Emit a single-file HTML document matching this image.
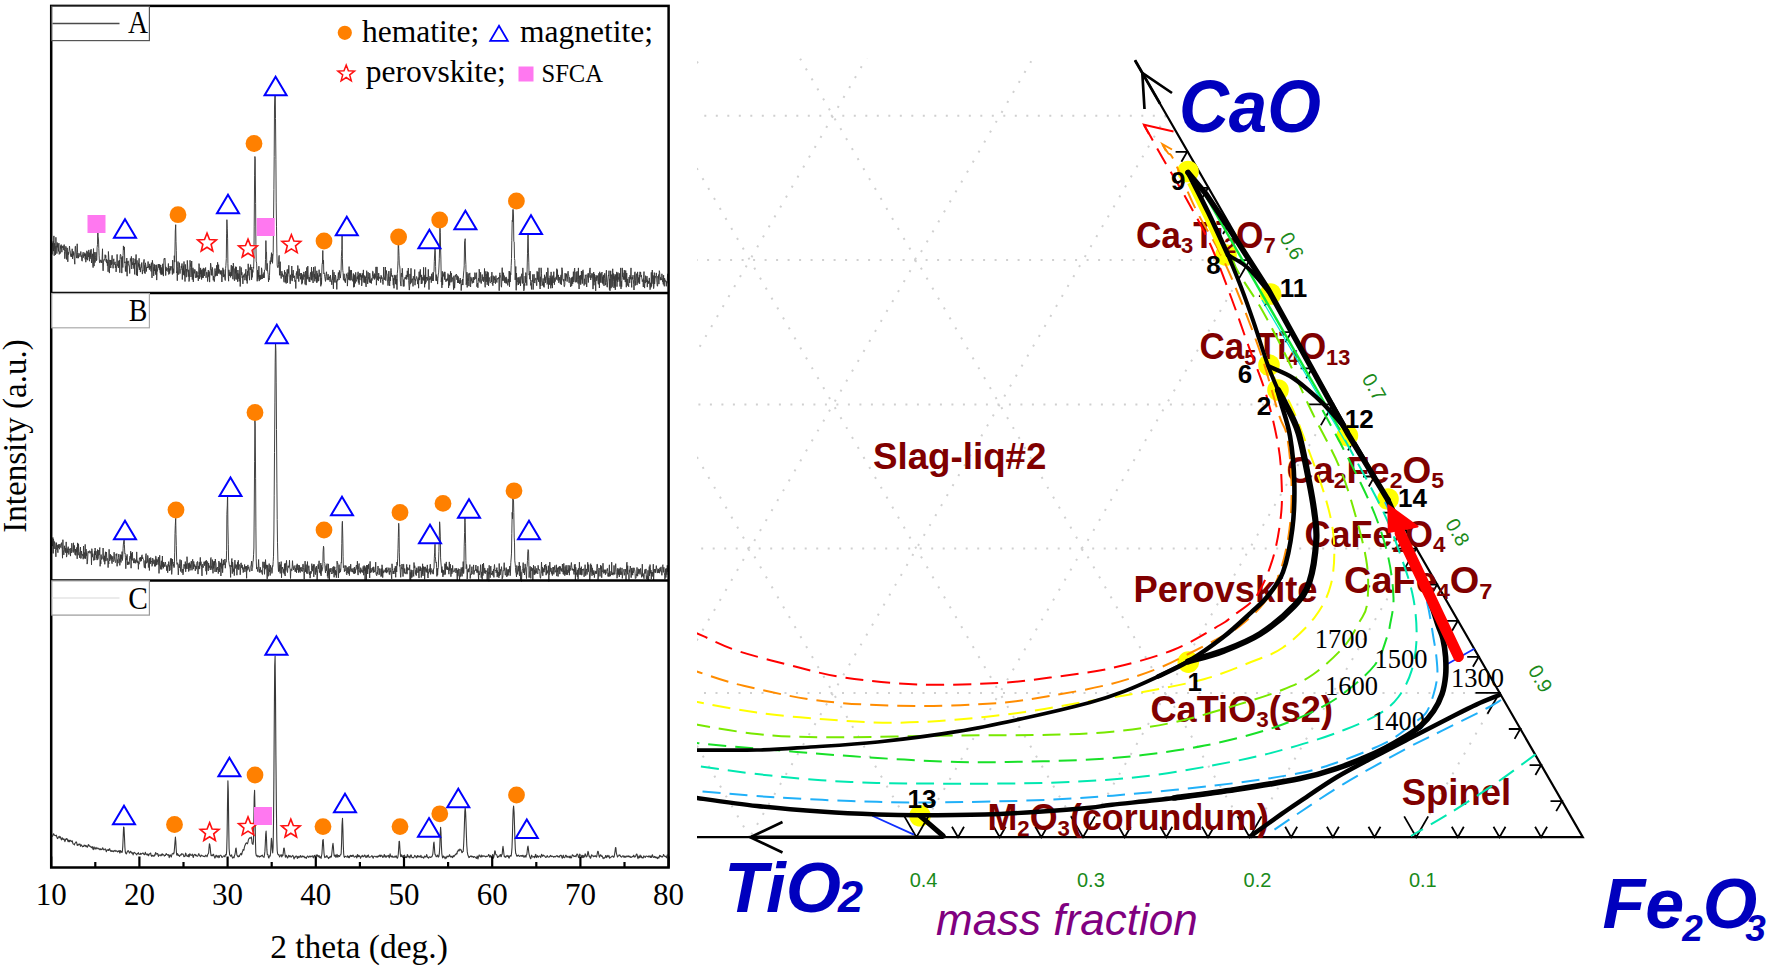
<!DOCTYPE html>
<html><head><meta charset="utf-8"><title>XRD patterns and CaO-TiO2-Fe2O3 phase diagram</title>
<style>html,body{margin:0;padding:0;background:#fff}svg{display:block}</style></head>
<body><svg width="1770" height="970" viewBox="0 0 1770 970">
<rect width="1770" height="970" fill="#fff"/>
<g id="L-left">
<g fill="none" stroke="#383838" stroke-width="0.95" stroke-linejoin="round">
<path d="M52.2 254.5 L52.5 243.4 L52.9 243.9 L53.2 241.3 L53.5 251.1 L53.9 235.9 L54.2 255.7 L54.5 243.3 L54.9 248.8 L55.2 246.1 L55.5 254.8 L55.9 237.3 L56.2 246.1 L56.5 245.9 L56.9 253.6 L57.2 242.5 L57.5 247.3 L57.9 243.8 L58.2 248.6 L58.5 251.4 L58.9 243.1 L59.2 254.4 L59.5 253.3 L59.9 251.4 L60.2 253.5 L60.5 245.7 L60.9 248.6 L61.2 244.6 L61.5 248.1 L61.9 252.2 L62.2 246.1 L62.5 247.7 L62.9 246.4 L63.2 245.7 L63.5 246.7 L63.8 250.1 L64.2 244.6 L64.5 251.5 L64.8 258.7 L65.2 254.2 L65.5 249.7 L65.8 246.3 L66.2 247.1 L66.5 259.4 L66.8 251.3 L67.2 247.9 L67.5 252.2 L67.8 261.8 L68.2 252.0 L68.5 254.6 L68.8 253.1 L69.2 249.9 L69.5 246.1 L69.8 250.1 L70.2 250.9 L70.5 255.0 L70.8 256.4 L71.2 256.9 L71.5 253.8 L71.8 256.9 L72.2 248.8 L72.5 258.9 L72.8 255.3 L73.2 251.3 L73.5 255.3 L73.8 252.6 L74.2 258.7 L74.5 260.8 L74.8 264.2 L75.2 246.4 L75.5 246.2 L75.8 251.0 L76.2 254.4 L76.5 258.1 L76.8 255.4 L77.2 243.8 L77.5 252.4 L77.8 258.2 L78.2 255.3 L78.5 258.1 L78.8 253.2 L79.2 253.4 L79.5 255.4 L79.8 256.6 L80.2 255.7 L80.5 255.4 L80.8 251.5 L81.2 256.8 L81.5 255.6 L81.8 260.7 L82.2 261.2 L82.5 256.2 L82.8 253.5 L83.2 252.2 L83.5 257.6 L83.8 256.0 L84.2 254.0 L84.5 256.0 L84.8 252.7 L85.2 259.4 L85.5 253.8 L85.8 262.2 L86.1 258.2 L86.5 259.2 L86.8 250.8 L87.1 257.2 L87.5 260.2 L87.8 251.8 L88.1 255.3 L88.5 256.9 L88.8 249.9 L89.1 258.4 L89.5 261.2 L89.8 252.7 L90.1 258.9 L90.5 250.6 L90.8 257.1 L91.1 249.2 L91.5 263.0 L91.8 259.5 L92.1 257.4 L92.5 253.8 L92.8 264.1 L93.1 267.6 L93.5 248.6 L93.8 264.1 L94.1 266.1 L94.5 259.8 L94.8 252.1 L95.1 262.5 L95.5 257.4 L95.8 255.3 L96.1 252.2 L96.5 260.7 L96.8 260.0 L97.1 247.7 L97.5 244.3 L97.8 227.5 L98.1 236.2 L98.5 240.0 L98.8 248.5 L99.1 255.2 L99.5 262.7 L99.8 262.8 L100.1 261.9 L100.5 260.0 L100.8 259.8 L101.1 262.6 L101.5 260.7 L101.8 263.0 L102.1 258.1 L102.5 248.8 L102.8 265.0 L103.1 270.8 L103.5 262.2 L103.8 259.5 L104.1 259.4 L104.5 259.6 L104.8 260.3 L105.1 254.7 L105.5 257.8 L105.8 255.4 L106.1 261.7 L106.5 259.1 L106.8 263.1 L107.1 259.8 L107.4 265.7 L107.8 261.9 L108.1 271.8 L108.4 251.5 L108.8 257.8 L109.1 265.6 L109.4 273.1 L109.8 259.9 L110.1 261.5 L110.4 260.2 L110.8 268.0 L111.1 260.0 L111.4 264.9 L111.8 260.0 L112.1 255.3 L112.4 263.2 L112.8 264.3 L113.1 268.3 L113.4 261.3 L113.8 258.8 L114.1 264.8 L114.4 263.2 L114.8 263.5 L115.1 261.8 L115.4 268.0 L115.8 264.1 L116.1 271.9 L116.4 267.9 L116.8 265.7 L117.1 254.4 L117.4 265.6 L117.8 264.7 L118.1 266.7 L118.4 268.0 L118.8 260.8 L119.1 267.0 L119.4 260.1 L119.8 272.7 L120.1 256.4 L120.4 254.3 L120.8 254.9 L121.1 258.7 L121.4 257.6 L121.8 273.1 L122.1 261.7 L122.4 256.4 L122.8 267.5 L123.1 255.5 L123.4 245.9 L123.8 250.0 L124.1 247.3 L124.4 246.9 L124.8 263.1 L125.1 261.7 L125.4 271.3 L125.8 266.3 L126.1 271.8 L126.4 264.6 L126.8 258.0 L127.1 276.2 L127.4 261.5 L127.8 263.3 L128.1 260.8 L128.4 263.3 L128.8 265.6 L129.1 265.5 L129.4 267.8 L129.7 273.5 L130.1 264.0 L130.4 258.5 L130.7 258.8 L131.1 261.4 L131.4 256.4 L131.7 269.0 L132.1 262.4 L132.4 263.4 L132.7 265.0 L133.1 258.1 L133.4 260.8 L133.7 268.5 L134.1 268.3 L134.4 263.0 L134.7 274.4 L135.1 258.8 L135.4 263.7 L135.7 264.3 L136.1 254.5 L136.4 275.2 L136.7 267.4 L137.1 260.4 L137.4 275.9 L137.7 268.7 L138.1 267.9 L138.4 262.8 L138.7 266.4 L139.1 258.3 L139.4 269.9 L139.7 264.1 L140.1 266.7 L140.4 272.1 L140.7 267.6 L141.1 267.5 L141.4 267.6 L141.7 262.6 L142.1 270.5 L142.4 274.1 L142.7 270.2 L143.1 270.9 L143.4 262.1 L143.7 262.2 L144.1 259.4 L144.4 272.8 L144.7 265.4 L145.1 273.7 L145.4 262.8 L145.7 264.6 L146.1 267.3 L146.4 271.5 L146.7 267.2 L147.1 268.0 L147.4 267.1 L147.7 267.9 L148.1 261.5 L148.4 267.5 L148.7 266.2 L149.1 266.9 L149.4 269.7 L149.7 263.9 L150.1 266.9 L150.4 265.9 L150.7 269.5 L151.1 271.4 L151.4 262.7 L151.7 270.5 L152.0 277.9 L152.4 260.3 L152.7 263.5 L153.0 263.3 L153.4 266.3 L153.7 275.9 L154.0 267.9 L154.4 264.4 L154.7 271.0 L155.0 264.9 L155.4 273.6 L155.7 269.5 L156.0 275.0 L156.4 264.8 L156.7 280.1 L157.0 272.3 L157.4 271.5 L157.7 268.0 L158.0 264.7 L158.4 264.0 L158.7 267.7 L159.0 264.4 L159.4 269.8 L159.7 264.3 L160.0 271.6 L160.4 273.3 L160.7 265.0 L161.0 274.6 L161.4 267.5 L161.7 274.5 L162.0 270.9 L162.4 274.4 L162.7 263.8 L163.0 268.3 L163.4 276.1 L163.7 265.8 L164.0 258.8 L164.4 259.3 L164.7 258.0 L165.0 258.5 L165.4 267.0 L165.7 275.5 L166.0 266.9 L166.4 270.8 L166.7 268.7 L167.0 269.3 L167.4 268.4 L167.7 268.4 L168.0 271.7 L168.4 263.5 L168.7 274.5 L169.0 274.1 L169.4 268.5 L169.7 273.5 L170.0 266.0 L170.4 266.9 L170.7 270.4 L171.0 268.7 L171.4 267.4 L171.7 266.4 L172.0 267.0 L172.4 274.5 L172.7 260.1 L173.0 271.6 L173.3 268.7 L173.7 273.4 L174.0 271.8 L174.3 255.7 L174.7 262.1 L175.0 247.0 L175.3 231.0 L175.7 224.7 L176.0 241.5 L176.3 250.7 L176.7 273.0 L177.0 271.4 L177.3 280.7 L177.7 266.3 L178.0 261.5 L178.3 273.9 L178.7 274.6 L179.0 270.6 L179.3 262.7 L179.7 268.2 L180.0 273.6 L180.3 269.6 L180.7 270.0 L181.0 269.7 L181.3 265.9 L181.7 268.0 L182.0 263.5 L182.3 279.5 L182.7 268.4 L183.0 273.1 L183.3 265.7 L183.7 274.8 L184.0 261.5 L184.3 275.5 L184.7 270.7 L185.0 281.5 L185.3 264.4 L185.7 271.4 L186.0 272.9 L186.3 277.2 L186.7 269.0 L187.0 271.5 L187.3 260.4 L187.7 267.0 L188.0 273.4 L188.3 276.7 L188.7 269.8 L189.0 281.5 L189.3 280.1 L189.7 271.0 L190.0 260.3 L190.3 262.5 L190.7 267.5 L191.0 277.0 L191.3 273.0 L191.7 261.0 L192.0 270.4 L192.3 279.6 L192.7 269.7 L193.0 267.8 L193.3 281.9 L193.7 271.9 L194.0 269.3 L194.3 273.4 L194.7 271.8 L195.0 269.6 L195.3 277.8 L195.6 277.4 L196.0 276.0 L196.3 271.3 L196.6 277.6 L197.0 271.6 L197.3 274.2 L197.6 277.1 L198.0 276.0 L198.3 280.9 L198.6 274.3 L199.0 263.6 L199.3 266.3 L199.6 278.8 L200.0 270.5 L200.3 274.1 L200.6 267.9 L201.0 277.2 L201.3 270.3 L201.6 279.5 L202.0 269.6 L202.3 277.9 L202.6 275.7 L203.0 268.7 L203.3 277.8 L203.6 267.9 L204.0 268.3 L204.3 276.0 L204.6 269.3 L205.0 269.5 L205.3 270.8 L205.6 267.5 L206.0 277.8 L206.3 275.6 L206.6 272.2 L207.0 272.1 L207.3 274.9 L207.6 281.5 L208.0 277.0 L208.3 270.1 L208.6 276.6 L209.0 272.1 L209.3 271.8 L209.6 282.1 L210.0 270.7 L210.3 270.4 L210.6 263.1 L211.0 265.8 L211.3 275.1 L211.6 269.4 L212.0 275.5 L212.3 267.4 L212.6 269.1 L213.0 276.4 L213.3 280.3 L213.6 276.0 L214.0 279.0 L214.3 281.6 L214.6 278.3 L215.0 268.5 L215.3 272.6 L215.6 276.3 L216.0 271.1 L216.3 275.5 L216.6 265.3 L217.0 269.1 L217.3 275.9 L217.6 262.3 L217.9 267.8 L218.3 273.2 L218.6 264.7 L218.9 273.6 L219.3 269.4 L219.6 271.9 L219.9 272.1 L220.3 274.4 L220.6 270.6 L220.9 273.9 L221.3 270.5 L221.6 276.3 L221.9 282.0 L222.3 274.5 L222.6 274.4 L222.9 267.8 L223.3 277.1 L223.6 269.8 L223.9 269.6 L224.3 276.4 L224.6 274.6 L224.9 279.2 L225.3 280.5 L225.6 268.7 L225.9 265.4 L226.3 258.5 L226.6 233.9 L226.9 219.7 L227.3 228.8 L227.6 238.8 L227.9 263.3 L228.3 276.8 L228.6 281.2 L228.9 269.8 L229.3 272.7 L229.6 275.9 L229.9 272.5 L230.3 272.0 L230.6 277.4 L230.9 272.3 L231.3 265.1 L231.6 275.9 L231.9 272.0 L232.3 270.4 L232.6 266.3 L232.9 279.2 L233.3 263.1 L233.6 265.7 L233.9 272.8 L234.3 280.3 L234.6 280.8 L234.9 268.5 L235.3 273.4 L235.6 266.7 L235.9 279.3 L236.3 266.9 L236.6 273.6 L236.9 279.5 L237.3 273.2 L237.6 281.7 L237.9 270.0 L238.3 276.2 L238.6 278.7 L238.9 273.7 L239.2 281.4 L239.6 277.2 L239.9 266.3 L240.2 286.5 L240.6 277.7 L240.9 275.1 L241.2 267.5 L241.6 275.0 L241.9 272.3 L242.2 277.8 L242.6 276.5 L242.9 283.9 L243.2 275.3 L243.6 277.2 L243.9 276.5 L244.2 273.9 L244.6 273.8 L244.9 280.2 L245.2 278.6 L245.6 271.6 L245.9 269.2 L246.2 274.4 L246.6 280.6 L246.9 274.7 L247.2 283.5 L247.6 270.9 L247.9 275.5 L248.2 263.8 L248.6 271.9 L248.9 273.1 L249.2 276.5 L249.6 280.2 L249.9 267.5 L250.2 270.0 L250.6 264.6 L250.9 269.3 L251.2 267.0 L251.6 279.8 L251.9 269.1 L252.2 277.4 L252.6 270.3 L252.9 272.4 L253.2 267.0 L253.6 268.3 L253.9 259.8 L254.2 226.9 L254.6 175.2 L254.9 156.5 L255.2 158.8 L255.6 203.5 L255.9 244.5 L256.2 261.1 L256.6 263.1 L256.9 270.3 L257.2 281.3 L257.6 270.0 L257.9 279.3 L258.2 272.2 L258.6 277.2 L258.9 266.2 L259.2 281.1 L259.6 275.1 L259.9 279.8 L260.2 276.3 L260.6 279.3 L260.9 274.9 L261.2 279.1 L261.5 267.8 L261.9 270.0 L262.2 279.0 L262.5 275.2 L262.9 274.3 L263.2 274.6 L263.5 278.0 L263.9 272.5 L264.2 277.9 L264.5 270.0 L264.9 269.7 L265.2 269.7 L265.5 259.5 L265.9 240.6 L266.2 251.6 L266.5 251.7 L266.9 270.7 L267.2 263.4 L267.5 269.4 L267.9 272.8 L268.2 274.4 L268.5 281.9 L268.9 278.2 L269.2 279.8 L269.5 275.3 L269.9 264.4 L270.2 260.7 L270.5 264.2 L270.9 257.3 L271.2 256.5 L271.5 252.7 L271.9 261.9 L272.2 254.1 L272.5 263.3 L272.9 256.3 L273.2 252.3 L273.5 223.2 L273.9 189.4 L274.2 156.6 L274.5 107.0 L274.9 92.1 L275.2 83.3 L275.5 118.5 L275.9 159.2 L276.2 202.1 L276.5 226.2 L276.9 253.8 L277.2 265.0 L277.5 267.2 L277.9 267.8 L278.2 267.2 L278.5 264.6 L278.9 256.3 L279.2 255.4 L279.5 275.1 L279.9 275.3 L280.2 261.7 L280.5 273.6 L280.9 276.5 L281.2 278.5 L281.5 276.2 L281.9 271.2 L282.2 275.1 L282.5 273.6 L282.9 276.8 L283.2 274.8 L283.5 275.5 L283.8 281.2 L284.2 282.3 L284.5 270.3 L284.8 273.9 L285.2 272.2 L285.5 282.3 L285.8 275.9 L286.2 283.5 L286.5 273.8 L286.8 276.4 L287.2 269.5 L287.5 282.8 L287.8 274.5 L288.2 268.9 L288.5 273.3 L288.8 265.3 L289.2 276.1 L289.5 276.9 L289.8 277.8 L290.2 283.8 L290.5 274.8 L290.8 280.4 L291.2 277.9 L291.5 275.4 L291.8 266.0 L292.2 281.1 L292.5 273.9 L292.8 276.5 L293.2 270.1 L293.5 277.8 L293.8 277.0 L294.2 276.6 L294.5 275.8 L294.8 281.7 L295.2 281.3 L295.5 280.1 L295.8 288.5 L296.2 273.5 L296.5 274.6 L296.8 271.4 L297.2 278.7 L297.5 273.1 L297.8 265.5 L298.2 270.5 L298.5 276.9 L298.8 281.6 L299.2 268.8 L299.5 273.5 L299.8 275.9 L300.2 273.0 L300.5 279.3 L300.8 276.6 L301.2 278.2 L301.5 273.0 L301.8 284.3 L302.2 276.6 L302.5 283.1 L302.8 274.5 L303.2 279.6 L303.5 273.3 L303.8 271.9 L304.2 273.2 L304.5 276.5 L304.8 275.6 L305.1 284.4 L305.5 271.0 L305.8 271.3 L306.1 285.2 L306.5 279.8 L306.8 267.4 L307.1 279.3 L307.5 278.0 L307.8 266.1 L308.1 274.9 L308.5 276.7 L308.8 280.5 L309.1 281.6 L309.5 277.3 L309.8 282.0 L310.1 276.1 L310.5 272.6 L310.8 272.2 L311.1 279.6 L311.5 267.1 L311.8 280.3 L312.1 271.4 L312.5 275.1 L312.8 279.4 L313.1 283.0 L313.5 267.2 L313.8 272.9 L314.1 277.2 L314.5 274.0 L314.8 281.3 L315.1 266.5 L315.5 278.8 L315.8 279.1 L316.1 277.2 L316.5 282.5 L316.8 270.8 L317.1 282.5 L317.5 273.5 L317.8 280.6 L318.1 275.4 L318.5 281.1 L318.8 280.9 L319.1 269.7 L319.5 276.3 L319.8 276.6 L320.1 275.9 L320.5 273.3 L320.8 286.3 L321.1 278.0 L321.5 284.4 L321.8 272.0 L322.1 264.6 L322.5 262.1 L322.8 250.5 L323.1 264.1 L323.5 260.2 L323.8 273.7 L324.1 272.8 L324.5 274.7 L324.8 276.9 L325.1 278.9 L325.5 281.4 L325.8 276.6 L326.1 273.8 L326.5 271.8 L326.8 276.8 L327.1 280.1 L327.4 279.5 L327.8 277.1 L328.1 274.2 L328.4 278.0 L328.8 280.1 L329.1 277.0 L329.4 277.8 L329.8 276.5 L330.1 281.8 L330.4 275.1 L330.8 278.2 L331.1 279.2 L331.4 280.9 L331.8 284.8 L332.1 280.7 L332.4 280.3 L332.8 269.9 L333.1 280.3 L333.4 288.8 L333.8 273.2 L334.1 272.2 L334.4 276.3 L334.8 282.4 L335.1 280.0 L335.4 275.0 L335.8 277.2 L336.1 282.5 L336.4 280.7 L336.8 289.4 L337.1 282.4 L337.4 279.1 L337.8 280.5 L338.1 275.6 L338.4 272.5 L338.8 278.3 L339.1 279.9 L339.4 270.4 L339.8 274.8 L340.1 275.5 L340.4 278.1 L340.8 273.2 L341.1 270.2 L341.4 256.7 L341.8 249.5 L342.1 232.9 L342.4 258.7 L342.8 270.5 L343.1 272.6 L343.4 279.5 L343.8 280.3 L344.1 273.8 L344.4 278.3 L344.8 281.4 L345.1 279.1 L345.4 282.8 L345.8 278.0 L346.1 277.9 L346.4 273.7 L346.8 275.7 L347.1 275.2 L347.4 286.1 L347.8 278.7 L348.1 272.6 L348.4 279.5 L348.8 276.6 L349.1 266.6 L349.4 280.0 L349.7 269.8 L350.1 280.5 L350.4 272.8 L350.7 270.3 L351.1 280.1 L351.4 270.1 L351.7 275.4 L352.1 278.6 L352.4 280.7 L352.7 281.3 L353.1 277.4 L353.4 273.5 L353.7 287.3 L354.1 274.6 L354.4 286.7 L354.7 275.4 L355.1 283.5 L355.4 283.0 L355.7 272.4 L356.1 279.4 L356.4 281.4 L356.7 281.2 L357.1 276.7 L357.4 279.2 L357.7 275.7 L358.1 271.8 L358.4 282.6 L358.7 274.9 L359.1 284.6 L359.4 280.7 L359.7 273.3 L360.1 276.9 L360.4 276.3 L360.7 273.4 L361.1 280.2 L361.4 275.3 L361.7 285.9 L362.1 282.1 L362.4 273.4 L362.7 277.7 L363.1 276.6 L363.4 269.9 L363.7 282.4 L364.1 282.5 L364.4 282.4 L364.7 275.5 L365.1 283.1 L365.4 276.7 L365.7 282.5 L366.1 286.9 L366.4 278.5 L366.7 270.7 L367.1 276.2 L367.4 281.0 L367.7 283.9 L368.1 272.2 L368.4 276.9 L368.7 279.0 L369.1 280.0 L369.4 282.4 L369.7 273.1 L370.1 275.7 L370.4 282.9 L370.7 279.8 L371.0 280.1 L371.4 283.5 L371.7 278.4 L372.0 280.5 L372.4 276.3 L372.7 271.2 L373.0 271.4 L373.4 278.3 L373.7 276.9 L374.0 274.6 L374.4 279.5 L374.7 273.5 L375.0 278.5 L375.4 277.8 L375.7 273.7 L376.0 266.9 L376.4 285.2 L376.7 279.5 L377.0 266.9 L377.4 275.8 L377.7 279.9 L378.0 276.8 L378.4 280.8 L378.7 273.1 L379.0 278.8 L379.4 277.7 L379.7 277.0 L380.0 276.9 L380.4 279.0 L380.7 282.6 L381.0 275.3 L381.4 275.9 L381.7 278.8 L382.0 277.4 L382.4 279.9 L382.7 281.6 L383.0 284.5 L383.4 277.4 L383.7 267.0 L384.0 277.7 L384.4 279.8 L384.7 277.1 L385.0 277.3 L385.4 267.0 L385.7 280.6 L386.0 276.4 L386.4 270.5 L386.7 273.7 L387.0 273.7 L387.4 281.1 L387.7 280.9 L388.0 285.6 L388.4 281.3 L388.7 271.3 L389.0 271.0 L389.4 283.7 L389.7 285.9 L390.0 276.9 L390.4 280.9 L390.7 270.5 L391.0 268.4 L391.4 272.2 L391.7 276.3 L392.0 275.5 L392.4 276.9 L392.7 275.6 L393.0 281.5 L393.3 285.2 L393.7 278.3 L394.0 288.3 L394.3 274.9 L394.7 275.5 L395.0 280.1 L395.3 276.3 L395.7 284.0 L396.0 274.9 L396.3 284.7 L396.7 279.0 L397.0 289.6 L397.3 273.4 L397.7 269.1 L398.0 260.3 L398.3 237.7 L398.7 248.4 L399.0 255.5 L399.3 265.4 L399.7 265.5 L400.0 269.2 L400.3 280.9 L400.7 284.0 L401.0 286.1 L401.3 273.7 L401.7 273.0 L402.0 276.8 L402.3 268.3 L402.7 275.2 L403.0 282.4 L403.3 286.4 L403.7 279.6 L404.0 286.4 L404.3 280.3 L404.7 279.2 L405.0 277.3 L405.3 279.1 L405.7 276.9 L406.0 277.5 L406.3 274.9 L406.7 279.5 L407.0 278.3 L407.3 270.8 L407.7 277.0 L408.0 273.9 L408.3 268.0 L408.7 280.7 L409.0 286.0 L409.3 290.1 L409.7 286.1 L410.0 273.9 L410.3 284.1 L410.7 283.8 L411.0 268.3 L411.3 282.6 L411.7 281.4 L412.0 279.1 L412.3 279.7 L412.7 278.6 L413.0 286.4 L413.3 276.3 L413.7 277.3 L414.0 278.3 L414.3 279.7 L414.7 269.5 L415.0 285.2 L415.3 279.4 L415.6 281.1 L416.0 279.3 L416.3 277.4 L416.6 276.5 L417.0 278.8 L417.3 279.1 L417.6 284.1 L418.0 280.0 L418.3 277.6 L418.6 288.2 L419.0 271.9 L419.3 271.6 L419.6 280.1 L420.0 277.3 L420.3 269.4 L420.6 276.8 L421.0 274.8 L421.3 284.0 L421.6 275.2 L422.0 283.6 L422.3 280.6 L422.6 277.3 L423.0 278.4 L423.3 280.5 L423.6 267.3 L424.0 280.0 L424.3 276.5 L424.6 287.3 L425.0 274.9 L425.3 284.1 L425.6 267.4 L426.0 282.4 L426.3 279.7 L426.6 277.1 L427.0 277.8 L427.3 277.1 L427.6 280.5 L428.0 277.7 L428.3 269.4 L428.6 277.4 L429.0 289.6 L429.3 278.6 L429.6 279.8 L430.0 276.2 L430.3 279.3 L430.6 279.3 L431.0 277.1 L431.3 282.7 L431.6 273.8 L432.0 277.7 L432.3 280.9 L432.6 277.1 L433.0 272.3 L433.3 281.0 L433.6 272.2 L434.0 271.4 L434.3 261.7 L434.6 255.0 L435.0 247.3 L435.3 250.7 L435.6 266.4 L436.0 280.7 L436.3 274.7 L436.6 280.7 L436.9 276.6 L437.3 278.9 L437.6 284.1 L437.9 278.6 L438.3 274.0 L438.6 272.9 L438.9 268.0 L439.3 258.8 L439.6 246.8 L439.9 225.8 L440.3 232.7 L440.6 249.0 L440.9 259.1 L441.3 282.0 L441.6 277.6 L441.9 287.9 L442.3 271.3 L442.6 284.9 L442.9 275.0 L443.3 276.4 L443.6 273.5 L443.9 273.7 L444.3 271.9 L444.6 279.6 L444.9 271.9 L445.3 277.3 L445.6 278.4 L445.9 281.8 L446.3 279.0 L446.6 280.1 L446.9 281.1 L447.3 278.4 L447.6 280.3 L447.9 273.6 L448.3 274.6 L448.6 288.0 L448.9 278.4 L449.3 274.9 L449.6 285.4 L449.9 277.7 L450.3 275.3 L450.6 271.3 L450.9 282.4 L451.3 273.1 L451.6 275.8 L451.9 281.7 L452.3 279.4 L452.6 278.1 L452.9 277.4 L453.3 284.3 L453.6 289.7 L453.9 275.8 L454.3 281.4 L454.6 288.2 L454.9 283.9 L455.3 275.1 L455.6 276.4 L455.9 275.5 L456.3 274.0 L456.6 275.4 L456.9 279.8 L457.3 275.6 L457.6 282.9 L457.9 279.2 L458.3 276.6 L458.6 283.0 L458.9 280.1 L459.2 279.9 L459.6 283.8 L459.9 281.4 L460.2 278.0 L460.6 283.2 L460.9 280.1 L461.2 290.6 L461.6 284.1 L461.9 284.3 L462.2 285.0 L462.6 279.0 L462.9 285.1 L463.2 278.4 L463.6 273.0 L463.9 270.2 L464.2 265.8 L464.6 241.2 L464.9 240.3 L465.2 238.7 L465.6 259.0 L465.9 264.6 L466.2 284.8 L466.6 281.8 L466.9 272.1 L467.2 287.4 L467.6 277.5 L467.9 275.0 L468.2 273.5 L468.6 281.4 L468.9 286.1 L469.2 275.7 L469.6 273.6 L469.9 272.9 L470.2 286.1 L470.6 287.0 L470.9 276.9 L471.2 281.3 L471.6 278.6 L471.9 278.3 L472.2 283.4 L472.6 280.8 L472.9 280.3 L473.2 277.1 L473.6 282.7 L473.9 277.2 L474.2 278.9 L474.6 279.7 L474.9 272.6 L475.2 277.1 L475.6 277.1 L475.9 279.1 L476.2 273.1 L476.6 272.7 L476.9 286.7 L477.2 284.4 L477.6 283.1 L477.9 287.8 L478.2 280.7 L478.6 278.2 L478.9 281.0 L479.2 269.2 L479.6 273.1 L479.9 282.4 L480.2 278.8 L480.6 272.3 L480.9 281.9 L481.2 283.6 L481.5 282.0 L481.9 278.5 L482.2 274.5 L482.5 279.2 L482.9 280.8 L483.2 276.9 L483.5 281.7 L483.9 280.2 L484.2 280.3 L484.5 268.5 L484.9 284.1 L485.2 287.3 L485.5 276.6 L485.9 271.3 L486.2 281.9 L486.5 276.3 L486.9 273.8 L487.2 284.8 L487.5 271.7 L487.9 282.3 L488.2 272.4 L488.5 286.0 L488.9 281.3 L489.2 277.4 L489.5 279.4 L489.9 281.6 L490.2 282.8 L490.5 282.8 L490.9 281.4 L491.2 276.3 L491.5 282.0 L491.9 272.1 L492.2 283.7 L492.5 283.0 L492.9 285.7 L493.2 275.7 L493.5 279.6 L493.9 283.0 L494.2 280.3 L494.5 276.6 L494.9 280.2 L495.2 279.0 L495.5 283.7 L495.9 275.6 L496.2 280.4 L496.5 280.2 L496.9 282.5 L497.2 278.3 L497.5 279.3 L497.9 278.3 L498.2 278.9 L498.5 278.7 L498.9 277.1 L499.2 290.7 L499.5 274.5 L499.9 272.8 L500.2 274.7 L500.5 275.2 L500.9 278.8 L501.2 285.9 L501.5 287.2 L501.9 279.9 L502.2 267.7 L502.5 280.6 L502.8 272.2 L503.2 276.2 L503.5 273.0 L503.8 280.8 L504.2 275.6 L504.5 282.6 L504.8 281.1 L505.2 277.5 L505.5 279.1 L505.8 283.3 L506.2 276.9 L506.5 283.3 L506.8 278.6 L507.2 280.1 L507.5 282.7 L507.8 285.4 L508.2 281.3 L508.5 279.0 L508.8 282.3 L509.2 271.0 L509.5 286.8 L509.8 271.7 L510.2 282.0 L510.5 272.9 L510.8 274.8 L511.2 265.6 L511.5 258.4 L511.8 240.7 L512.2 220.5 L512.5 221.6 L512.8 209.6 L513.2 209.4 L513.5 216.0 L513.8 241.3 L514.2 241.9 L514.5 258.6 L514.8 260.4 L515.2 279.9 L515.5 273.0 L515.8 266.5 L516.2 290.3 L516.5 273.1 L516.8 285.3 L517.2 282.4 L517.5 282.0 L517.8 277.6 L518.2 279.7 L518.5 284.9 L518.8 277.3 L519.2 280.0 L519.5 283.4 L519.8 279.2 L520.2 276.6 L520.5 286.0 L520.8 280.5 L521.2 278.1 L521.5 274.9 L521.8 273.7 L522.2 283.2 L522.5 283.5 L522.8 267.9 L523.2 275.7 L523.5 283.6 L523.8 290.8 L524.2 289.5 L524.5 283.5 L524.8 285.6 L525.1 276.1 L525.5 282.6 L525.8 272.6 L526.1 275.8 L526.5 279.5 L526.8 285.5 L527.1 269.9 L527.5 253.2 L527.8 238.2 L528.1 231.4 L528.5 252.9 L528.8 262.8 L529.1 275.1 L529.5 273.2 L529.8 279.2 L530.1 271.1 L530.5 281.3 L530.8 285.4 L531.1 283.4 L531.5 289.4 L531.8 280.4 L532.1 281.3 L532.5 281.4 L532.8 274.4 L533.1 289.6 L533.5 283.7 L533.8 277.6 L534.1 274.3 L534.5 281.7 L534.8 283.1 L535.1 279.5 L535.5 279.7 L535.8 277.9 L536.1 278.8 L536.5 285.5 L536.8 285.8 L537.1 271.3 L537.5 279.5 L537.8 272.8 L538.1 272.1 L538.5 281.7 L538.8 274.6 L539.1 267.8 L539.5 282.0 L539.8 285.2 L540.1 289.0 L540.5 276.8 L540.8 286.0 L541.1 267.8 L541.5 273.6 L541.8 281.4 L542.1 281.2 L542.5 285.4 L542.8 283.6 L543.1 278.4 L543.5 286.5 L543.8 282.2 L544.1 287.4 L544.5 274.8 L544.8 280.3 L545.1 276.7 L545.5 282.8 L545.8 277.7 L546.1 277.6 L546.5 272.2 L546.8 280.4 L547.1 284.4 L547.4 283.9 L547.8 267.8 L548.1 270.7 L548.4 288.8 L548.8 277.9 L549.1 278.1 L549.4 284.7 L549.8 279.8 L550.1 275.7 L550.4 277.8 L550.8 288.3 L551.1 271.9 L551.4 285.3 L551.8 277.3 L552.1 277.5 L552.4 288.1 L552.8 275.6 L553.1 283.0 L553.4 277.0 L553.8 271.7 L554.1 278.0 L554.4 284.7 L554.8 277.9 L555.1 281.6 L555.4 279.8 L555.8 279.1 L556.1 276.8 L556.4 279.5 L556.8 268.7 L557.1 276.6 L557.4 269.8 L557.8 280.2 L558.1 280.6 L558.4 274.9 L558.8 282.8 L559.1 280.8 L559.4 280.3 L559.8 277.0 L560.1 281.2 L560.4 284.1 L560.8 275.5 L561.1 274.8 L561.4 284.8 L561.8 267.8 L562.1 267.8 L562.4 269.8 L562.8 279.8 L563.1 279.6 L563.4 281.3 L563.8 279.2 L564.1 286.5 L564.4 286.7 L564.8 284.6 L565.1 273.1 L565.4 280.7 L565.8 274.5 L566.1 276.4 L566.4 273.7 L566.8 278.9 L567.1 281.6 L567.4 279.2 L567.8 272.9 L568.1 271.2 L568.4 275.0 L568.7 275.0 L569.1 282.8 L569.4 277.3 L569.7 277.9 L570.1 278.1 L570.4 284.3 L570.7 287.0 L571.1 281.0 L571.4 277.6 L571.7 285.9 L572.1 281.1 L572.4 276.8 L572.7 283.9 L573.1 279.9 L573.4 271.7 L573.7 282.0 L574.1 280.4 L574.4 269.6 L574.7 268.1 L575.1 279.5 L575.4 282.3 L575.7 281.9 L576.1 272.1 L576.4 277.1 L576.7 282.2 L577.1 271.2 L577.4 279.3 L577.7 279.9 L578.1 283.5 L578.4 267.9 L578.7 279.6 L579.1 289.0 L579.4 275.8 L579.7 277.3 L580.1 283.6 L580.4 275.1 L580.7 284.7 L581.1 281.6 L581.4 271.0 L581.7 279.4 L582.1 271.6 L582.4 283.6 L582.7 270.5 L583.1 269.8 L583.4 273.2 L583.7 274.9 L584.1 285.5 L584.4 278.8 L584.7 280.3 L585.1 284.3 L585.4 275.4 L585.7 276.0 L586.1 274.6 L586.4 282.8 L586.7 287.0 L587.1 280.2 L587.4 275.8 L587.7 276.3 L588.1 273.3 L588.4 282.5 L588.7 273.6 L589.1 277.6 L589.4 273.0 L589.7 269.4 L590.1 267.9 L590.4 274.4 L590.7 280.0 L591.0 277.3 L591.4 277.8 L591.7 273.5 L592.0 274.2 L592.4 273.6 L592.7 279.9 L593.0 289.1 L593.4 278.2 L593.7 272.0 L594.0 285.3 L594.4 273.9 L594.7 281.7 L595.0 276.7 L595.4 279.3 L595.7 290.9 L596.0 275.2 L596.4 276.0 L596.7 280.8 L597.0 278.8 L597.4 276.9 L597.7 275.5 L598.0 281.8 L598.4 284.3 L598.7 274.1 L599.0 273.2 L599.4 288.0 L599.7 271.8 L600.0 282.5 L600.4 281.1 L600.7 273.4 L601.0 282.7 L601.4 273.4 L601.7 273.5 L602.0 272.0 L602.4 283.1 L602.7 276.7 L603.0 284.3 L603.4 274.9 L603.7 282.0 L604.0 285.9 L604.4 278.5 L604.7 273.3 L605.0 277.2 L605.4 285.2 L605.7 282.6 L606.0 277.0 L606.4 270.2 L606.7 282.5 L607.0 287.1 L607.4 287.1 L607.7 281.1 L608.0 278.0 L608.4 275.0 L608.7 276.0 L609.0 270.7 L609.4 289.6 L609.7 278.8 L610.0 290.8 L610.4 278.5 L610.7 270.8 L611.0 288.2 L611.4 274.6 L611.7 276.7 L612.0 287.2 L612.4 286.2 L612.7 268.8 L613.0 278.9 L613.3 273.5 L613.7 281.6 L614.0 288.0 L614.3 276.3 L614.7 286.4 L615.0 274.3 L615.3 289.8 L615.7 274.8 L616.0 276.6 L616.3 280.4 L616.7 271.9 L617.0 286.7 L617.3 273.6 L617.7 282.0 L618.0 272.5 L618.3 279.5 L618.7 278.9 L619.0 277.0 L619.3 281.4 L619.7 273.3 L620.0 286.5 L620.3 279.9 L620.7 267.9 L621.0 288.9 L621.3 281.2 L621.7 286.7 L622.0 278.0 L622.3 267.9 L622.7 276.8 L623.0 272.8 L623.3 278.7 L623.7 276.5 L624.0 280.0 L624.3 270.1 L624.7 279.2 L625.0 276.6 L625.3 282.1 L625.7 270.5 L626.0 276.8 L626.3 287.2 L626.7 273.0 L627.0 282.6 L627.3 285.6 L627.7 278.9 L628.0 283.9 L628.3 284.1 L628.7 286.8 L629.0 277.1 L629.3 278.4 L629.7 282.9 L630.0 275.2 L630.3 279.2 L630.7 275.4 L631.0 267.9 L631.3 280.6 L631.7 287.4 L632.0 277.1 L632.3 279.3 L632.7 276.7 L633.0 275.2 L633.3 279.6 L633.7 284.3 L634.0 290.0 L634.3 283.1 L634.6 274.1 L635.0 271.8 L635.3 285.5 L635.6 280.5 L636.0 275.9 L636.3 273.6 L636.6 274.9 L637.0 285.1 L637.3 278.8 L637.6 271.9 L638.0 283.3 L638.3 280.5 L638.6 277.5 L639.0 282.0 L639.3 274.8 L639.6 283.8 L640.0 271.8 L640.3 274.4 L640.6 272.0 L641.0 276.9 L641.3 275.1 L641.6 277.1 L642.0 279.0 L642.3 281.7 L642.6 279.7 L643.0 280.2 L643.3 287.0 L643.6 277.6 L644.0 271.6 L644.3 283.7 L644.6 288.1 L645.0 279.9 L645.3 283.1 L645.6 275.7 L646.0 279.9 L646.3 282.1 L646.6 280.8 L647.0 276.2 L647.3 287.1 L647.6 279.8 L648.0 283.6 L648.3 281.0 L648.6 283.3 L649.0 283.6 L649.3 277.9 L649.6 283.1 L650.0 289.7 L650.3 288.9 L650.6 282.8 L651.0 287.4 L651.3 272.4 L651.6 286.3 L652.0 279.3 L652.3 270.0 L652.6 279.8 L653.0 283.8 L653.3 275.5 L653.6 288.6 L654.0 285.7 L654.3 272.6 L654.6 284.0 L655.0 279.5 L655.3 276.2 L655.6 277.4 L656.0 276.7 L656.3 272.9 L656.6 276.7 L656.9 282.4 L657.3 286.1 L657.6 286.2 L657.9 276.1 L658.3 278.4 L658.6 274.6 L658.9 284.1 L659.3 270.7 L659.6 272.1 L659.9 275.8 L660.3 280.2 L660.6 277.3 L660.9 279.1 L661.3 279.2 L661.6 280.1 L661.9 273.8 L662.3 277.3 L662.6 281.8 L662.9 280.3 L663.3 284.4 L663.6 275.2 L663.9 283.5 L664.3 286.3 L664.6 278.2 L664.9 280.3 L665.3 280.1 L665.6 281.6 L665.9 280.9 L666.3 286.3 L666.6 281.5 L666.9 283.3 L667.3 280.6 L667.6 273.7"/>
<path d="M52.2 544.5 L52.5 546.1 L52.9 537.5 L53.2 553.4 L53.5 539.1 L53.9 543.2 L54.2 548.9 L54.5 541.6 L54.9 542.5 L55.2 543.2 L55.5 549.5 L55.9 556.8 L56.2 547.5 L56.5 542.7 L56.9 549.7 L57.2 545.1 L57.5 547.6 L57.9 552.7 L58.2 544.7 L58.5 547.9 L58.9 544.3 L59.2 547.4 L59.5 549.2 L59.9 544.1 L60.2 546.9 L60.5 547.4 L60.9 545.8 L61.2 543.6 L61.5 542.7 L61.9 548.1 L62.2 547.7 L62.5 558.2 L62.9 539.7 L63.2 549.5 L63.5 550.7 L63.8 554.9 L64.2 551.4 L64.5 545.8 L64.8 549.4 L65.2 551.8 L65.5 548.2 L65.8 552.9 L66.2 541.9 L66.5 557.1 L66.8 556.0 L67.2 548.5 L67.5 552.6 L67.8 550.3 L68.2 546.7 L68.5 550.6 L68.8 554.5 L69.2 548.8 L69.5 548.9 L69.8 550.2 L70.2 552.4 L70.5 556.1 L70.8 548.1 L71.2 553.0 L71.5 551.8 L71.8 543.2 L72.2 549.3 L72.5 550.6 L72.8 551.0 L73.2 552.6 L73.5 542.8 L73.8 551.6 L74.2 548.6 L74.5 545.5 L74.8 553.8 L75.2 554.8 L75.5 549.0 L75.8 555.4 L76.2 550.3 L76.5 552.2 L76.8 547.4 L77.2 558.8 L77.5 542.9 L77.8 551.8 L78.2 555.2 L78.5 543.8 L78.8 551.6 L79.2 552.2 L79.5 556.0 L79.8 557.9 L80.2 551.0 L80.5 547.0 L80.8 558.6 L81.2 558.0 L81.5 551.0 L81.8 554.5 L82.2 554.7 L82.5 555.5 L82.8 554.1 L83.2 559.2 L83.5 546.0 L83.8 557.8 L84.2 555.1 L84.5 552.6 L84.8 558.5 L85.2 544.4 L85.5 558.6 L85.8 555.4 L86.1 549.1 L86.5 555.7 L86.8 552.7 L87.1 564.1 L87.5 561.8 L87.8 556.0 L88.1 551.2 L88.5 551.8 L88.8 553.0 L89.1 552.0 L89.5 550.7 L89.8 552.0 L90.1 553.4 L90.5 552.5 L90.8 551.8 L91.1 550.9 L91.5 564.9 L91.8 548.7 L92.1 550.6 L92.5 556.8 L92.8 553.7 L93.1 556.9 L93.5 558.5 L93.8 560.5 L94.1 558.4 L94.5 551.2 L94.8 560.0 L95.1 548.0 L95.5 555.0 L95.8 553.5 L96.1 551.2 L96.5 558.2 L96.8 555.0 L97.1 560.1 L97.5 549.6 L97.8 559.4 L98.1 558.0 L98.5 556.5 L98.8 550.1 L99.1 555.0 L99.5 549.7 L99.8 547.5 L100.1 566.3 L100.5 560.4 L100.8 563.9 L101.1 554.6 L101.5 559.4 L101.8 559.5 L102.1 559.1 L102.5 556.6 L102.8 555.7 L103.1 548.0 L103.5 559.4 L103.8 558.6 L104.1 561.6 L104.5 555.8 L104.8 564.3 L105.1 555.2 L105.5 551.8 L105.8 561.1 L106.1 555.2 L106.5 552.0 L106.8 557.8 L107.1 560.5 L107.4 558.4 L107.8 559.5 L108.1 567.6 L108.4 561.0 L108.8 564.0 L109.1 549.3 L109.4 559.2 L109.8 561.0 L110.1 556.3 L110.4 554.2 L110.8 559.5 L111.1 556.6 L111.4 555.5 L111.8 562.9 L112.1 563.7 L112.4 559.4 L112.8 556.3 L113.1 560.4 L113.4 561.7 L113.8 561.0 L114.1 552.2 L114.4 557.0 L114.8 559.9 L115.1 561.1 L115.4 562.6 L115.8 561.8 L116.1 553.9 L116.4 555.7 L116.8 553.6 L117.1 566.3 L117.4 559.6 L117.8 561.2 L118.1 563.2 L118.4 557.6 L118.8 554.1 L119.1 557.2 L119.4 558.4 L119.8 565.4 L120.1 562.8 L120.4 554.6 L120.8 562.0 L121.1 562.4 L121.4 554.9 L121.8 558.9 L122.1 551.6 L122.4 560.5 L122.8 556.4 L123.1 548.3 L123.4 544.0 L123.8 540.8 L124.1 535.7 L124.4 544.7 L124.8 553.6 L125.1 553.2 L125.4 557.7 L125.8 568.7 L126.1 560.4 L126.4 556.4 L126.8 560.2 L127.1 554.4 L127.4 564.8 L127.8 561.7 L128.1 564.7 L128.4 564.0 L128.8 561.9 L129.1 564.4 L129.4 561.1 L129.7 557.6 L130.1 556.1 L130.4 558.5 L130.7 551.2 L131.1 568.2 L131.4 553.3 L131.7 560.3 L132.1 555.1 L132.4 552.1 L132.7 560.3 L133.1 559.4 L133.4 560.1 L133.7 563.1 L134.1 558.2 L134.4 562.5 L134.7 563.1 L135.1 559.5 L135.4 559.8 L135.7 563.3 L136.1 561.3 L136.4 561.8 L136.7 551.9 L137.1 561.4 L137.4 562.8 L137.7 560.7 L138.1 562.7 L138.4 569.3 L138.7 561.7 L139.1 564.2 L139.4 557.9 L139.7 557.9 L140.1 559.5 L140.4 557.2 L140.7 561.5 L141.1 557.7 L141.4 560.9 L141.7 555.6 L142.1 554.8 L142.4 558.9 L142.7 557.3 L143.1 559.1 L143.4 559.3 L143.7 560.4 L144.1 566.3 L144.4 567.7 L144.7 565.0 L145.1 560.5 L145.4 568.3 L145.7 555.6 L146.1 553.6 L146.4 563.3 L146.7 562.2 L147.1 561.6 L147.4 562.4 L147.7 555.4 L148.1 557.4 L148.4 567.5 L148.7 566.7 L149.1 559.4 L149.4 570.5 L149.7 558.0 L150.1 560.1 L150.4 563.8 L150.7 557.5 L151.1 560.5 L151.4 561.9 L151.7 561.0 L152.0 566.3 L152.4 565.2 L152.7 558.1 L153.0 559.9 L153.4 563.6 L153.7 562.6 L154.0 559.6 L154.4 564.7 L154.7 566.4 L155.0 560.3 L155.4 566.3 L155.7 556.2 L156.0 556.3 L156.4 565.2 L156.7 559.6 L157.0 558.9 L157.4 562.1 L157.7 560.3 L158.0 564.6 L158.4 557.1 L158.7 561.7 L159.0 573.4 L159.4 563.8 L159.7 555.3 L160.0 565.9 L160.4 565.7 L160.7 569.3 L161.0 564.1 L161.4 560.8 L161.7 569.4 L162.0 566.5 L162.4 556.0 L162.7 566.8 L163.0 562.7 L163.4 568.3 L163.7 562.1 L164.0 567.0 L164.4 564.6 L164.7 566.2 L165.0 563.7 L165.4 562.1 L165.7 564.1 L166.0 566.5 L166.4 565.7 L166.7 570.7 L167.0 565.8 L167.4 566.7 L167.7 572.8 L168.0 564.3 L168.4 566.3 L168.7 561.6 L169.0 564.3 L169.4 571.0 L169.7 565.5 L170.0 570.3 L170.4 559.8 L170.7 558.4 L171.0 565.6 L171.4 558.5 L171.7 574.4 L172.0 569.6 L172.4 559.1 L172.7 563.7 L173.0 562.0 L173.3 566.2 L173.7 564.1 L174.0 567.7 L174.3 567.2 L174.7 552.2 L175.0 533.5 L175.3 525.4 L175.7 518.2 L176.0 534.5 L176.3 545.6 L176.7 561.4 L177.0 564.4 L177.3 563.6 L177.7 562.8 L178.0 567.8 L178.3 574.9 L178.7 568.4 L179.0 564.3 L179.3 567.9 L179.7 565.4 L180.0 559.5 L180.3 566.3 L180.7 571.5 L181.0 563.7 L181.3 560.3 L181.7 567.1 L182.0 572.8 L182.3 569.0 L182.7 569.4 L183.0 574.8 L183.3 572.0 L183.7 568.2 L184.0 564.3 L184.3 565.8 L184.7 564.8 L185.0 568.8 L185.3 561.6 L185.7 571.8 L186.0 565.9 L186.3 563.7 L186.7 568.8 L187.0 556.7 L187.3 561.9 L187.7 562.7 L188.0 568.9 L188.3 563.4 L188.7 571.5 L189.0 563.6 L189.3 567.7 L189.7 562.6 L190.0 570.4 L190.3 564.5 L190.7 567.8 L191.0 563.6 L191.3 561.1 L191.7 564.7 L192.0 570.3 L192.3 561.5 L192.7 559.3 L193.0 564.5 L193.3 569.1 L193.7 561.4 L194.0 563.5 L194.3 566.6 L194.7 564.5 L195.0 567.1 L195.3 570.9 L195.6 566.0 L196.0 565.7 L196.3 569.2 L196.6 565.7 L197.0 562.0 L197.3 561.8 L197.6 561.4 L198.0 574.1 L198.3 565.9 L198.6 568.5 L199.0 569.1 L199.3 562.2 L199.6 568.8 L200.0 563.8 L200.3 557.4 L200.6 565.3 L201.0 561.7 L201.3 564.8 L201.6 567.7 L202.0 575.9 L202.3 564.2 L202.6 565.6 L203.0 567.9 L203.3 567.1 L203.6 565.7 L204.0 561.8 L204.3 562.4 L204.6 565.7 L205.0 561.6 L205.3 563.7 L205.6 561.2 L206.0 571.2 L206.3 560.2 L206.6 574.5 L207.0 564.1 L207.3 562.1 L207.6 561.6 L208.0 569.9 L208.3 570.9 L208.6 563.1 L209.0 568.0 L209.3 566.0 L209.6 565.7 L210.0 567.3 L210.3 569.9 L210.6 558.7 L211.0 557.5 L211.3 567.6 L211.6 566.5 L212.0 569.7 L212.3 559.6 L212.6 562.7 L213.0 573.3 L213.3 561.4 L213.6 568.4 L214.0 563.6 L214.3 565.2 L214.6 561.1 L215.0 571.9 L215.3 559.0 L215.6 562.0 L216.0 563.2 L216.3 572.0 L216.6 568.3 L217.0 569.9 L217.3 567.0 L217.6 568.1 L217.9 569.2 L218.3 573.6 L218.6 568.2 L218.9 561.0 L219.3 572.0 L219.6 567.6 L219.9 562.5 L220.3 566.5 L220.6 563.1 L220.9 576.0 L221.3 565.8 L221.6 558.8 L221.9 568.5 L222.3 563.8 L222.6 572.7 L222.9 567.9 L223.3 559.9 L223.6 565.2 L223.9 562.8 L224.3 564.2 L224.6 564.7 L224.9 559.0 L225.3 568.2 L225.6 563.4 L225.9 561.6 L226.3 561.9 L226.6 550.3 L226.9 514.4 L227.3 505.1 L227.6 491.4 L227.9 524.9 L228.3 544.2 L228.6 560.6 L228.9 561.9 L229.3 564.9 L229.6 566.3 L229.9 566.2 L230.3 569.4 L230.6 577.4 L230.9 565.0 L231.3 567.0 L231.6 560.3 L231.9 558.5 L232.3 573.6 L232.6 562.1 L232.9 564.6 L233.3 567.8 L233.6 571.6 L233.9 569.1 L234.3 575.6 L234.6 567.0 L234.9 560.1 L235.3 568.4 L235.6 568.3 L235.9 564.4 L236.3 566.5 L236.6 565.4 L236.9 575.2 L237.3 565.3 L237.6 562.1 L237.9 569.1 L238.3 560.3 L238.6 569.7 L238.9 569.7 L239.2 564.4 L239.6 565.6 L239.9 565.5 L240.2 574.8 L240.6 569.7 L240.9 563.0 L241.2 562.8 L241.6 567.7 L241.9 568.0 L242.2 564.9 L242.6 569.3 L242.9 567.3 L243.2 572.6 L243.6 570.0 L243.9 567.8 L244.2 568.7 L244.6 564.5 L244.9 571.9 L245.2 569.8 L245.6 566.5 L245.9 568.7 L246.2 566.0 L246.6 578.3 L246.9 566.4 L247.2 570.4 L247.6 569.8 L247.9 564.9 L248.2 568.3 L248.6 567.0 L248.9 569.4 L249.2 569.4 L249.6 571.6 L249.9 571.6 L250.2 566.7 L250.6 566.2 L250.9 565.9 L251.2 564.8 L251.6 561.1 L251.9 571.0 L252.2 568.1 L252.6 567.5 L252.9 561.4 L253.2 561.3 L253.6 554.3 L253.9 548.0 L254.2 515.0 L254.6 461.3 L254.9 420.0 L255.2 425.1 L255.6 478.2 L255.9 527.9 L256.2 558.8 L256.6 569.0 L256.9 567.0 L257.2 568.4 L257.6 571.5 L257.9 570.5 L258.2 567.9 L258.6 559.5 L258.9 565.8 L259.2 572.2 L259.6 569.3 L259.9 572.7 L260.2 567.2 L260.6 569.0 L260.9 572.0 L261.2 571.6 L261.5 570.4 L261.9 573.3 L262.2 574.3 L262.5 574.6 L262.9 561.8 L263.2 566.7 L263.5 567.4 L263.9 567.3 L264.2 561.9 L264.5 574.3 L264.9 564.6 L265.2 569.2 L265.5 559.6 L265.9 566.7 L266.2 567.8 L266.5 564.9 L266.9 572.0 L267.2 578.9 L267.5 565.2 L267.9 565.3 L268.2 576.3 L268.5 571.3 L268.9 567.6 L269.2 563.6 L269.5 572.0 L269.9 569.8 L270.2 575.5 L270.5 565.3 L270.9 568.2 L271.2 567.7 L271.5 568.1 L271.9 573.4 L272.2 572.4 L272.5 565.6 L272.9 566.3 L273.2 561.4 L273.5 556.2 L273.9 532.0 L274.2 495.2 L274.5 452.6 L274.9 402.1 L275.2 362.1 L275.5 341.9 L275.9 350.8 L276.2 382.9 L276.5 429.6 L276.9 483.9 L277.2 519.5 L277.5 542.8 L277.9 560.3 L278.2 567.1 L278.5 571.6 L278.9 565.0 L279.2 562.1 L279.5 571.3 L279.9 565.1 L280.2 573.4 L280.5 564.6 L280.9 566.7 L281.2 561.6 L281.5 577.8 L281.9 567.3 L282.2 568.9 L282.5 567.0 L282.9 568.2 L283.2 572.7 L283.5 569.7 L283.8 569.2 L284.2 574.2 L284.5 563.6 L284.8 574.0 L285.2 576.0 L285.5 563.4 L285.8 570.4 L286.2 563.9 L286.5 560.4 L286.8 565.7 L287.2 571.5 L287.5 572.5 L287.8 567.8 L288.2 565.7 L288.5 567.5 L288.8 566.3 L289.2 566.7 L289.5 560.2 L289.8 568.4 L290.2 568.9 L290.5 578.5 L290.8 572.2 L291.2 568.8 L291.5 569.7 L291.8 570.8 L292.2 566.4 L292.5 560.7 L292.8 566.3 L293.2 568.5 L293.5 569.9 L293.8 566.4 L294.2 565.6 L294.5 568.3 L294.8 569.7 L295.2 571.8 L295.5 568.4 L295.8 571.3 L296.2 565.3 L296.5 572.9 L296.8 569.2 L297.2 563.8 L297.5 568.4 L297.8 569.9 L298.2 565.0 L298.5 572.6 L298.8 568.1 L299.2 571.4 L299.5 565.4 L299.8 570.8 L300.2 572.6 L300.5 567.7 L300.8 568.8 L301.2 567.2 L301.5 571.0 L301.8 569.7 L302.2 571.7 L302.5 569.4 L302.8 564.3 L303.2 564.1 L303.5 567.7 L303.8 571.6 L304.2 579.1 L304.5 573.3 L304.8 567.1 L305.1 561.1 L305.5 571.8 L305.8 569.7 L306.1 564.6 L306.5 573.4 L306.8 569.7 L307.1 568.0 L307.5 561.6 L307.8 573.8 L308.1 570.0 L308.5 568.7 L308.8 565.7 L309.1 568.2 L309.5 574.9 L309.8 572.0 L310.1 578.2 L310.5 574.2 L310.8 571.2 L311.1 573.6 L311.5 570.5 L311.8 563.7 L312.1 567.3 L312.5 571.2 L312.8 565.9 L313.1 567.7 L313.5 564.6 L313.8 576.9 L314.1 564.3 L314.5 565.5 L314.8 566.1 L315.1 574.0 L315.5 574.6 L315.8 567.6 L316.1 572.3 L316.5 566.1 L316.8 569.9 L317.1 580.0 L317.5 573.9 L317.8 569.7 L318.1 564.4 L318.5 568.7 L318.8 564.4 L319.1 560.8 L319.5 572.5 L319.8 572.4 L320.1 570.8 L320.5 574.2 L320.8 563.0 L321.1 575.9 L321.5 565.4 L321.8 571.3 L322.1 570.4 L322.5 569.4 L322.8 566.4 L323.1 551.9 L323.5 546.2 L323.8 548.0 L324.1 561.7 L324.5 562.9 L324.8 563.4 L325.1 569.1 L325.5 572.9 L325.8 568.8 L326.1 565.7 L326.5 570.7 L326.8 564.9 L327.1 563.7 L327.4 576.2 L327.8 571.1 L328.1 578.4 L328.4 563.9 L328.8 574.5 L329.1 569.4 L329.4 580.2 L329.8 569.2 L330.1 568.3 L330.4 571.9 L330.8 570.9 L331.1 568.2 L331.4 574.0 L331.8 573.1 L332.1 573.9 L332.4 571.9 L332.8 567.2 L333.1 567.2 L333.4 572.7 L333.8 566.3 L334.1 577.3 L334.4 570.3 L334.8 566.9 L335.1 574.6 L335.4 570.1 L335.8 575.3 L336.1 571.1 L336.4 577.7 L336.8 568.6 L337.1 561.1 L337.4 563.9 L337.8 563.4 L338.1 572.7 L338.4 577.9 L338.8 569.4 L339.1 564.7 L339.4 573.1 L339.8 572.2 L340.1 568.7 L340.4 571.9 L340.8 569.7 L341.1 562.6 L341.4 563.1 L341.8 543.7 L342.1 525.2 L342.4 521.3 L342.8 538.1 L343.1 556.8 L343.4 567.7 L343.8 566.0 L344.1 565.6 L344.4 571.7 L344.8 569.7 L345.1 570.9 L345.4 565.6 L345.8 566.6 L346.1 565.8 L346.4 573.6 L346.8 574.8 L347.1 567.5 L347.4 572.8 L347.8 573.1 L348.1 567.3 L348.4 570.4 L348.8 573.8 L349.1 566.1 L349.4 575.6 L349.7 569.5 L350.1 570.7 L350.4 569.4 L350.7 564.2 L351.1 571.8 L351.4 570.4 L351.7 568.7 L352.1 569.5 L352.4 572.2 L352.7 569.8 L353.1 568.2 L353.4 570.8 L353.7 573.6 L354.1 570.6 L354.4 567.1 L354.7 573.9 L355.1 569.2 L355.4 572.9 L355.7 569.9 L356.1 566.5 L356.4 565.1 L356.7 566.7 L357.1 569.5 L357.4 561.2 L357.7 572.1 L358.1 575.1 L358.4 569.5 L358.7 565.8 L359.1 563.5 L359.4 571.5 L359.7 572.2 L360.1 570.8 L360.4 573.4 L360.7 567.7 L361.1 569.5 L361.4 571.7 L361.7 569.6 L362.1 572.6 L362.4 572.6 L362.7 569.4 L363.1 566.5 L363.4 567.5 L363.7 575.2 L364.1 565.5 L364.4 570.8 L364.7 566.4 L365.1 580.3 L365.4 567.9 L365.7 573.2 L366.1 566.5 L366.4 580.7 L366.7 565.0 L367.1 572.1 L367.4 565.3 L367.7 574.0 L368.1 565.3 L368.4 568.7 L368.7 563.9 L369.1 568.9 L369.4 570.6 L369.7 577.9 L370.1 561.4 L370.4 572.9 L370.7 570.8 L371.0 568.1 L371.4 569.7 L371.7 572.3 L372.0 570.5 L372.4 570.4 L372.7 567.4 L373.0 569.0 L373.4 572.7 L373.7 566.8 L374.0 568.5 L374.4 571.0 L374.7 572.0 L375.0 572.3 L375.4 569.8 L375.7 562.1 L376.0 573.9 L376.4 574.9 L376.7 575.7 L377.0 572.1 L377.4 574.2 L377.7 569.4 L378.0 566.0 L378.4 569.9 L378.7 569.6 L379.0 574.9 L379.4 574.0 L379.7 568.5 L380.0 568.9 L380.4 570.5 L380.7 571.0 L381.0 576.6 L381.4 568.6 L381.7 576.1 L382.0 564.8 L382.4 567.8 L382.7 577.6 L383.0 572.3 L383.4 571.1 L383.7 573.1 L384.0 569.7 L384.4 570.9 L384.7 571.6 L385.0 571.6 L385.4 572.2 L385.7 568.2 L386.0 572.2 L386.4 567.7 L386.7 573.1 L387.0 570.0 L387.4 571.7 L387.7 571.8 L388.0 567.6 L388.4 568.4 L388.7 570.1 L389.0 572.6 L389.4 574.6 L389.7 570.5 L390.0 567.8 L390.4 571.7 L390.7 570.6 L391.0 573.8 L391.4 575.7 L391.7 578.8 L392.0 563.8 L392.4 568.7 L392.7 570.4 L393.0 574.0 L393.3 573.5 L393.7 571.0 L394.0 573.9 L394.3 568.4 L394.7 569.2 L395.0 572.0 L395.3 566.3 L395.7 577.3 L396.0 567.4 L396.3 566.0 L396.7 572.0 L397.0 562.0 L397.3 565.4 L397.7 558.2 L398.0 548.8 L398.3 537.4 L398.7 523.3 L399.0 528.5 L399.3 552.2 L399.7 566.3 L400.0 565.1 L400.3 571.9 L400.7 577.3 L401.0 572.8 L401.3 567.5 L401.7 568.5 L402.0 564.0 L402.3 569.0 L402.7 568.4 L403.0 576.6 L403.3 564.4 L403.7 564.2 L404.0 571.6 L404.3 573.3 L404.7 568.5 L405.0 571.6 L405.3 573.6 L405.7 573.9 L406.0 572.4 L406.3 573.1 L406.7 564.4 L407.0 574.2 L407.3 571.4 L407.7 567.4 L408.0 569.2 L408.3 569.6 L408.7 568.6 L409.0 570.2 L409.3 569.2 L409.7 564.8 L410.0 579.8 L410.3 572.4 L410.7 580.1 L411.0 569.7 L411.3 577.6 L411.7 570.3 L412.0 577.4 L412.3 574.7 L412.7 574.0 L413.0 570.1 L413.3 571.8 L413.7 576.4 L414.0 562.5 L414.3 568.0 L414.7 565.7 L415.0 567.1 L415.3 573.5 L415.6 574.4 L416.0 570.1 L416.3 575.6 L416.6 567.8 L417.0 568.4 L417.3 571.4 L417.6 572.6 L418.0 570.4 L418.3 566.5 L418.6 573.3 L419.0 578.1 L419.3 569.4 L419.6 571.1 L420.0 566.3 L420.3 570.9 L420.6 567.1 L421.0 571.7 L421.3 577.5 L421.6 573.2 L422.0 567.9 L422.3 574.3 L422.6 563.8 L423.0 576.0 L423.3 572.2 L423.6 566.5 L424.0 569.6 L424.3 567.2 L424.6 579.3 L425.0 573.4 L425.3 566.8 L425.6 568.2 L426.0 571.6 L426.3 568.6 L426.6 571.9 L427.0 572.6 L427.3 564.9 L427.6 573.5 L428.0 578.0 L428.3 572.3 L428.6 573.6 L429.0 568.8 L429.3 568.8 L429.6 572.2 L430.0 567.3 L430.3 564.2 L430.6 574.4 L431.0 568.3 L431.3 571.9 L431.6 571.5 L432.0 572.7 L432.3 573.5 L432.6 573.2 L433.0 569.7 L433.3 574.2 L433.6 568.5 L434.0 568.6 L434.3 558.3 L434.6 552.9 L435.0 544.2 L435.3 556.4 L435.6 559.9 L436.0 562.7 L436.3 562.0 L436.6 567.7 L436.9 576.4 L437.3 568.3 L437.6 575.1 L437.9 569.8 L438.3 567.7 L438.6 559.0 L438.9 551.4 L439.3 535.7 L439.6 521.8 L439.9 525.1 L440.3 536.1 L440.6 557.9 L440.9 562.1 L441.3 566.5 L441.6 572.4 L441.9 566.5 L442.3 573.0 L442.6 569.6 L442.9 576.9 L443.3 570.2 L443.6 572.9 L443.9 575.1 L444.3 573.3 L444.6 573.5 L444.9 563.6 L445.3 574.5 L445.6 564.1 L445.9 568.0 L446.3 561.9 L446.6 569.4 L446.9 567.9 L447.3 569.7 L447.6 566.6 L447.9 570.0 L448.3 567.7 L448.6 569.9 L448.9 574.2 L449.3 561.9 L449.6 570.5 L449.9 570.1 L450.3 564.2 L450.6 568.9 L450.9 576.7 L451.3 572.2 L451.6 568.4 L451.9 573.8 L452.3 572.2 L452.6 565.4 L452.9 569.2 L453.3 570.6 L453.6 570.8 L453.9 572.2 L454.3 570.8 L454.6 571.0 L454.9 568.5 L455.3 569.2 L455.6 568.6 L455.9 572.9 L456.3 570.3 L456.6 568.3 L456.9 573.9 L457.3 581.0 L457.6 570.2 L457.9 576.1 L458.3 568.6 L458.6 571.8 L458.9 574.7 L459.2 575.6 L459.6 579.9 L459.9 569.0 L460.2 571.4 L460.6 576.7 L460.9 576.5 L461.2 567.5 L461.6 571.1 L461.9 575.4 L462.2 576.3 L462.6 567.2 L462.9 572.6 L463.2 561.6 L463.6 573.6 L463.9 571.4 L464.2 546.8 L464.6 532.4 L464.9 514.9 L465.2 522.8 L465.6 543.8 L465.9 560.5 L466.2 568.8 L466.6 564.5 L466.9 567.5 L467.2 579.0 L467.6 572.2 L467.9 569.4 L468.2 572.2 L468.6 568.8 L468.9 571.9 L469.2 568.0 L469.6 568.4 L469.9 564.6 L470.2 578.5 L470.6 574.2 L470.9 573.8 L471.2 574.8 L471.6 570.7 L471.9 566.7 L472.2 573.4 L472.6 574.1 L472.9 573.5 L473.2 569.6 L473.6 564.9 L473.9 574.5 L474.2 572.9 L474.6 571.0 L474.9 570.2 L475.2 570.7 L475.6 568.9 L475.9 565.0 L476.2 570.8 L476.6 569.4 L476.9 572.6 L477.2 569.9 L477.6 572.4 L477.9 566.2 L478.2 573.1 L478.6 579.9 L478.9 570.8 L479.2 573.9 L479.6 574.9 L479.9 572.7 L480.2 572.3 L480.6 564.7 L480.9 567.8 L481.2 577.7 L481.5 572.1 L481.9 572.1 L482.2 579.4 L482.5 564.1 L482.9 575.7 L483.2 574.0 L483.5 563.1 L483.9 568.6 L484.2 573.0 L484.5 568.3 L484.9 568.0 L485.2 573.8 L485.5 570.5 L485.9 572.1 L486.2 570.6 L486.5 571.8 L486.9 572.5 L487.2 580.5 L487.5 573.0 L487.9 568.3 L488.2 572.9 L488.5 572.4 L488.9 581.3 L489.2 565.3 L489.5 574.2 L489.9 572.4 L490.2 577.7 L490.5 567.0 L490.9 566.1 L491.2 572.7 L491.5 574.8 L491.9 573.1 L492.2 573.9 L492.5 571.1 L492.9 575.5 L493.2 571.8 L493.5 569.2 L493.9 577.4 L494.2 567.7 L494.5 564.5 L494.9 569.6 L495.2 570.7 L495.5 571.0 L495.9 570.0 L496.2 572.9 L496.5 569.9 L496.9 567.6 L497.2 577.1 L497.5 570.5 L497.9 575.9 L498.2 572.0 L498.5 573.3 L498.9 577.8 L499.2 563.5 L499.5 576.0 L499.9 571.6 L500.2 574.9 L500.5 569.4 L500.9 571.3 L501.2 570.6 L501.5 566.7 L501.9 571.0 L502.2 578.9 L502.5 576.6 L502.8 577.2 L503.2 570.3 L503.5 570.6 L503.8 569.4 L504.2 562.7 L504.5 570.3 L504.8 568.2 L505.2 575.0 L505.5 575.2 L505.8 573.1 L506.2 567.6 L506.5 568.8 L506.8 576.9 L507.2 572.7 L507.5 575.5 L507.8 569.4 L508.2 575.4 L508.5 569.9 L508.8 569.3 L509.2 572.4 L509.5 568.1 L509.8 566.0 L510.2 575.7 L510.5 571.1 L510.8 562.5 L511.2 558.0 L511.5 553.1 L511.8 533.5 L512.2 512.3 L512.5 518.7 L512.8 495.8 L513.2 500.1 L513.5 500.1 L513.8 512.4 L514.2 537.1 L514.5 542.9 L514.8 560.8 L515.2 563.9 L515.5 567.5 L515.8 572.6 L516.2 573.6 L516.5 576.9 L516.8 565.5 L517.2 568.2 L517.5 574.1 L517.8 574.5 L518.2 569.1 L518.5 566.1 L518.8 571.3 L519.2 562.1 L519.5 564.3 L519.8 576.0 L520.2 565.9 L520.5 579.9 L520.8 571.8 L521.2 572.4 L521.5 581.4 L521.8 575.1 L522.2 570.0 L522.5 569.0 L522.8 568.6 L523.2 562.6 L523.5 572.9 L523.8 571.4 L524.2 568.4 L524.5 575.0 L524.8 568.8 L525.1 563.9 L525.5 566.6 L525.8 571.0 L526.1 572.5 L526.5 578.6 L526.8 567.2 L527.1 566.3 L527.5 560.3 L527.8 551.4 L528.1 549.6 L528.5 550.2 L528.8 561.5 L529.1 577.6 L529.5 571.3 L529.8 570.9 L530.1 566.3 L530.5 572.2 L530.8 578.4 L531.1 568.7 L531.5 567.3 L531.8 570.9 L532.1 569.1 L532.5 568.4 L532.8 580.2 L533.1 574.4 L533.5 565.1 L533.8 570.8 L534.1 574.9 L534.5 569.8 L534.8 574.5 L535.1 566.3 L535.5 573.3 L535.8 570.9 L536.1 573.4 L536.5 570.8 L536.8 568.3 L537.1 572.7 L537.5 573.0 L537.8 573.8 L538.1 565.3 L538.5 569.0 L538.8 570.1 L539.1 569.9 L539.5 569.5 L539.8 571.4 L540.1 576.8 L540.5 578.3 L540.8 575.9 L541.1 573.3 L541.5 562.1 L541.8 568.3 L542.1 573.3 L542.5 567.2 L542.8 575.8 L543.1 568.3 L543.5 571.7 L543.8 569.2 L544.1 572.2 L544.5 565.0 L544.8 569.8 L545.1 567.5 L545.5 566.5 L545.8 564.2 L546.1 575.2 L546.5 566.4 L546.8 574.1 L547.1 570.4 L547.4 572.9 L547.8 570.9 L548.1 570.8 L548.4 565.7 L548.8 581.4 L549.1 575.3 L549.4 575.1 L549.8 562.1 L550.1 568.1 L550.4 567.9 L550.8 571.7 L551.1 568.0 L551.4 573.5 L551.8 571.3 L552.1 574.2 L552.4 575.6 L552.8 567.4 L553.1 568.3 L553.4 567.0 L553.8 574.3 L554.1 570.5 L554.4 569.0 L554.8 565.5 L555.1 572.4 L555.4 570.8 L555.8 571.3 L556.1 569.4 L556.4 564.8 L556.8 576.1 L557.1 570.9 L557.4 571.9 L557.8 567.8 L558.1 576.5 L558.4 567.4 L558.8 568.9 L559.1 567.2 L559.4 566.2 L559.8 574.1 L560.1 568.9 L560.4 566.5 L560.8 570.2 L561.1 569.6 L561.4 571.0 L561.8 568.4 L562.1 571.9 L562.4 564.0 L562.8 567.1 L563.1 573.9 L563.4 574.4 L563.8 563.4 L564.1 572.4 L564.4 570.7 L564.8 575.7 L565.1 566.5 L565.4 572.5 L565.8 574.4 L566.1 565.2 L566.4 568.1 L566.8 574.8 L567.1 570.0 L567.4 574.7 L567.8 571.6 L568.1 565.2 L568.4 571.4 L568.7 572.6 L569.1 568.6 L569.4 575.2 L569.7 565.5 L570.1 570.7 L570.4 569.6 L570.7 567.6 L571.1 564.9 L571.4 562.5 L571.7 565.8 L572.1 570.2 L572.4 568.6 L572.7 570.3 L573.1 570.0 L573.4 569.0 L573.7 571.9 L574.1 574.5 L574.4 564.7 L574.7 572.0 L575.1 564.1 L575.4 580.1 L575.7 567.1 L576.1 569.4 L576.4 574.6 L576.7 572.7 L577.1 574.9 L577.4 576.9 L577.7 569.8 L578.1 579.3 L578.4 568.3 L578.7 569.8 L579.1 574.7 L579.4 562.2 L579.7 568.4 L580.1 570.1 L580.4 574.5 L580.7 568.1 L581.1 574.6 L581.4 566.7 L581.7 575.2 L582.1 574.3 L582.4 569.0 L582.7 569.9 L583.1 570.3 L583.4 569.5 L583.7 568.7 L584.1 576.8 L584.4 572.9 L584.7 573.0 L585.1 564.7 L585.4 571.0 L585.7 575.7 L586.1 571.7 L586.4 568.9 L586.7 570.7 L587.1 574.5 L587.4 570.4 L587.7 562.3 L588.1 567.9 L588.4 571.7 L588.7 564.6 L589.1 571.1 L589.4 573.1 L589.7 580.4 L590.1 577.2 L590.4 572.8 L590.7 563.7 L591.0 572.4 L591.4 565.1 L591.7 566.8 L592.0 575.8 L592.4 567.9 L592.7 574.0 L593.0 572.0 L593.4 575.0 L593.7 570.4 L594.0 570.5 L594.4 577.6 L594.7 574.1 L595.0 572.7 L595.4 571.3 L595.7 573.6 L596.0 570.8 L596.4 573.8 L596.7 570.9 L597.0 564.2 L597.4 564.3 L597.7 568.5 L598.0 579.7 L598.4 577.1 L598.7 569.7 L599.0 568.0 L599.4 569.3 L599.7 570.4 L600.0 576.4 L600.4 569.0 L600.7 565.1 L601.0 569.2 L601.4 566.3 L601.7 577.7 L602.0 570.7 L602.4 571.8 L602.7 571.1 L603.0 563.2 L603.4 572.4 L603.7 573.4 L604.0 569.6 L604.4 572.8 L604.7 569.9 L605.0 570.9 L605.4 574.7 L605.7 569.7 L606.0 573.5 L606.4 571.7 L606.7 571.4 L607.0 569.3 L607.4 568.4 L607.7 571.4 L608.0 576.4 L608.4 573.0 L608.7 576.5 L609.0 571.5 L609.4 564.8 L609.7 576.4 L610.0 571.2 L610.4 576.1 L610.7 574.6 L611.0 575.0 L611.4 573.3 L611.7 562.2 L612.0 574.9 L612.4 572.7 L612.7 574.6 L613.0 575.2 L613.3 572.8 L613.7 574.2 L614.0 565.4 L614.3 571.9 L614.7 574.5 L615.0 574.2 L615.3 567.8 L615.7 563.7 L616.0 568.9 L616.3 571.6 L616.7 572.6 L617.0 578.3 L617.3 576.6 L617.7 568.3 L618.0 574.1 L618.3 569.7 L618.7 574.8 L619.0 568.6 L619.3 576.9 L619.7 569.1 L620.0 569.9 L620.3 567.6 L620.7 574.9 L621.0 571.7 L621.3 573.2 L621.7 574.6 L622.0 567.9 L622.3 578.4 L622.7 574.7 L623.0 572.4 L623.3 571.4 L623.7 570.4 L624.0 569.2 L624.3 575.3 L624.7 572.3 L625.0 571.4 L625.3 569.1 L625.7 572.2 L626.0 580.0 L626.3 573.4 L626.7 563.1 L627.0 562.2 L627.3 574.4 L627.7 565.7 L628.0 572.7 L628.3 574.1 L628.7 574.4 L629.0 579.8 L629.3 569.8 L629.7 572.4 L630.0 569.0 L630.3 566.0 L630.7 568.2 L631.0 577.6 L631.3 577.6 L631.7 568.1 L632.0 574.9 L632.3 570.8 L632.7 575.2 L633.0 567.8 L633.3 572.8 L633.7 572.1 L634.0 567.8 L634.3 569.2 L634.6 569.4 L635.0 571.6 L635.3 578.5 L635.6 578.2 L636.0 578.3 L636.3 574.1 L636.6 575.6 L637.0 567.4 L637.3 571.8 L637.6 576.2 L638.0 573.1 L638.3 568.8 L638.6 573.6 L639.0 572.5 L639.3 572.4 L639.6 569.3 L640.0 574.4 L640.3 570.9 L640.6 568.4 L641.0 571.6 L641.3 574.0 L641.6 577.3 L642.0 576.4 L642.3 564.2 L642.6 576.1 L643.0 574.0 L643.3 573.6 L643.6 577.5 L644.0 578.7 L644.3 574.5 L644.6 571.2 L645.0 569.4 L645.3 572.6 L645.6 573.4 L646.0 568.9 L646.3 579.0 L646.6 578.3 L647.0 575.5 L647.3 579.8 L647.6 575.6 L648.0 570.3 L648.3 575.6 L648.6 580.3 L649.0 570.9 L649.3 566.5 L649.6 575.9 L650.0 564.6 L650.3 567.6 L650.6 573.3 L651.0 570.1 L651.3 579.0 L651.6 571.9 L652.0 574.5 L652.3 576.5 L652.6 572.0 L653.0 574.0 L653.3 564.2 L653.6 580.3 L654.0 572.2 L654.3 570.7 L654.6 569.1 L655.0 572.6 L655.3 569.2 L655.6 572.6 L656.0 568.9 L656.3 565.6 L656.6 568.4 L656.9 568.1 L657.3 573.1 L657.6 572.1 L657.9 569.4 L658.3 572.9 L658.6 568.9 L658.9 571.3 L659.3 570.3 L659.6 573.2 L659.9 567.8 L660.3 570.8 L660.6 571.3 L660.9 566.9 L661.3 571.7 L661.6 571.3 L661.9 575.3 L662.3 566.8 L662.6 565.4 L662.9 564.7 L663.3 572.4 L663.6 569.2 L663.9 567.3 L664.3 572.5 L664.6 575.1 L664.9 579.3 L665.3 576.6 L665.6 568.8 L665.9 577.5 L666.3 568.3 L666.6 573.2 L666.9 574.7 L667.3 565.3 L667.6 572.0"/>
<path d="M52.2 835.7 L52.6 836.1 L53.0 835.2 L53.4 833.9 L53.8 833.9 L54.3 835.1 L54.7 835.4 L55.1 835.4 L55.5 835.6 L55.9 835.9 L56.3 835.2 L56.7 836.3 L57.1 837.9 L57.5 838.6 L57.9 838.3 L58.4 837.1 L58.8 836.9 L59.2 836.3 L59.6 837.5 L60.0 837.9 L60.4 836.7 L60.8 837.4 L61.2 839.3 L61.6 839.8 L62.1 838.3 L62.5 837.9 L62.9 839.1 L63.3 839.6 L63.7 838.9 L64.1 839.0 L64.5 840.1 L64.9 841.7 L65.3 840.5 L65.7 839.0 L66.2 839.4 L66.6 838.6 L67.0 838.6 L67.4 839.5 L67.8 841.0 L68.2 841.7 L68.6 840.1 L69.0 840.7 L69.4 841.7 L69.9 840.3 L70.3 840.2 L70.7 841.1 L71.1 841.1 L71.5 841.6 L71.9 840.9 L72.3 840.8 L72.7 843.0 L73.1 843.9 L73.5 844.1 L74.0 844.4 L74.4 844.8 L74.8 843.4 L75.2 843.1 L75.6 842.8 L76.0 841.9 L76.4 842.0 L76.8 843.2 L77.2 845.4 L77.7 844.7 L78.1 845.1 L78.5 844.9 L78.9 844.0 L79.3 844.6 L79.7 844.0 L80.1 844.3 L80.5 846.3 L80.9 845.5 L81.3 844.9 L81.8 845.6 L82.2 846.2 L82.6 846.8 L83.0 846.2 L83.4 846.4 L83.8 846.2 L84.2 845.0 L84.6 845.8 L85.0 845.9 L85.5 845.3 L85.9 846.6 L86.3 846.0 L86.7 845.8 L87.1 847.2 L87.5 847.2 L87.9 846.0 L88.3 844.6 L88.7 844.7 L89.1 845.8 L89.6 846.2 L90.0 846.0 L90.4 846.7 L90.8 847.0 L91.2 846.8 L91.6 847.7 L92.0 847.3 L92.4 846.7 L92.8 848.8 L93.3 849.6 L93.7 847.5 L94.1 846.9 L94.5 848.2 L94.9 849.1 L95.3 849.0 L95.7 847.9 L96.1 847.4 L96.5 848.2 L96.9 849.0 L97.4 848.3 L97.8 848.0 L98.2 848.2 L98.6 848.9 L99.0 848.7 L99.4 848.7 L99.8 849.7 L100.2 849.8 L100.6 848.8 L101.1 849.4 L101.5 849.6 L101.9 849.0 L102.3 849.1 L102.7 847.7 L103.1 848.4 L103.5 849.8 L103.9 849.7 L104.3 849.7 L104.7 849.4 L105.2 848.8 L105.6 849.2 L106.0 851.0 L106.4 851.7 L106.8 850.2 L107.2 850.0 L107.6 850.1 L108.0 849.5 L108.4 850.5 L108.9 850.5 L109.3 848.9 L109.7 848.7 L110.1 849.9 L110.5 850.6 L110.9 851.4 L111.3 850.9 L111.7 850.6 L112.1 851.4 L112.5 850.9 L113.0 851.2 L113.4 851.7 L113.8 850.7 L114.2 851.1 L114.6 850.9 L115.0 850.3 L115.4 851.1 L115.8 851.4 L116.2 851.0 L116.7 850.8 L117.1 851.2 L117.5 851.9 L117.9 851.5 L118.3 851.0 L118.7 851.4 L119.1 850.5 L119.5 852.3 L119.9 853.1 L120.3 850.6 L120.8 851.7 L121.2 852.0 L121.6 851.3 L122.0 852.5 L122.4 851.0 L122.8 846.1 L123.2 836.5 L123.6 827.0 L124.0 827.6 L124.5 837.6 L124.9 847.3 L125.3 852.0 L125.7 853.2 L126.1 853.8 L126.5 853.9 L126.9 852.4 L127.3 851.9 L127.7 851.0 L128.1 850.5 L128.6 851.2 L129.0 852.0 L129.4 853.1 L129.8 852.6 L130.2 851.9 L130.6 851.3 L131.0 851.6 L131.4 852.8 L131.8 853.2 L132.3 852.6 L132.7 853.6 L133.1 854.9 L133.5 853.6 L133.9 852.5 L134.3 852.4 L134.7 852.9 L135.1 853.1 L135.5 853.3 L136.0 853.9 L136.4 854.5 L136.8 854.8 L137.2 853.8 L137.6 853.4 L138.0 853.2 L138.4 852.6 L138.8 854.2 L139.2 854.3 L139.6 854.3 L140.1 854.4 L140.5 853.3 L140.9 854.3 L141.3 854.2 L141.7 853.8 L142.1 853.6 L142.5 853.1 L142.9 853.2 L143.3 853.1 L143.8 854.3 L144.2 854.6 L144.6 854.7 L145.0 853.4 L145.4 852.3 L145.8 854.1 L146.2 854.0 L146.6 854.3 L147.0 855.0 L147.4 854.1 L147.9 854.0 L148.3 855.7 L148.7 855.6 L149.1 854.3 L149.5 853.9 L149.9 853.8 L150.3 853.3 L150.7 853.1 L151.1 855.5 L151.6 856.3 L152.0 855.2 L152.4 855.3 L152.8 856.1 L153.2 855.8 L153.6 855.9 L154.0 856.3 L154.4 855.0 L154.8 855.5 L155.2 854.0 L155.7 852.5 L156.1 854.1 L156.5 853.9 L156.9 853.7 L157.3 853.9 L157.7 853.5 L158.1 855.5 L158.5 856.4 L158.9 854.8 L159.4 855.3 L159.8 855.2 L160.2 854.9 L160.6 855.3 L161.0 855.8 L161.4 854.7 L161.8 854.1 L162.2 855.2 L162.6 853.9 L163.0 854.6 L163.5 854.8 L163.9 855.1 L164.3 856.1 L164.7 855.5 L165.1 855.2 L165.5 855.4 L165.9 854.1 L166.3 853.6 L166.7 854.4 L167.2 854.6 L167.6 855.0 L168.0 855.2 L168.4 854.7 L168.8 855.5 L169.2 857.6 L169.6 856.3 L170.0 854.8 L170.4 855.1 L170.8 855.9 L171.3 857.0 L171.7 855.4 L172.1 853.8 L172.5 853.9 L172.9 853.6 L173.3 853.2 L173.7 853.9 L174.1 852.6 L174.5 848.3 L175.0 841.8 L175.4 837.0 L175.8 841.2 L176.2 849.0 L176.6 854.5 L177.0 855.3 L177.4 853.6 L177.8 854.1 L178.2 855.4 L178.6 855.0 L179.1 855.8 L179.5 856.4 L179.9 855.7 L180.3 855.0 L180.7 854.7 L181.1 855.1 L181.5 853.7 L181.9 854.0 L182.3 854.3 L182.8 854.1 L183.2 854.3 L183.6 855.7 L184.0 856.8 L184.4 856.1 L184.8 856.5 L185.2 855.1 L185.6 853.1 L186.0 853.7 L186.4 855.8 L186.9 856.0 L187.3 856.0 L187.7 856.5 L188.1 855.1 L188.5 854.7 L188.9 856.9 L189.3 856.4 L189.7 853.8 L190.1 854.0 L190.6 855.0 L191.0 855.5 L191.4 855.2 L191.8 855.0 L192.2 854.1 L192.6 854.7 L193.0 857.1 L193.4 857.4 L193.8 855.4 L194.2 854.8 L194.7 854.3 L195.1 854.3 L195.5 855.7 L195.9 854.9 L196.3 855.2 L196.7 855.9 L197.1 856.3 L197.5 856.3 L197.9 855.9 L198.4 854.5 L198.8 853.6 L199.2 854.6 L199.6 855.6 L200.0 855.9 L200.4 856.7 L200.8 856.1 L201.2 855.0 L201.6 855.7 L202.0 855.7 L202.5 855.9 L202.9 855.7 L203.3 856.3 L203.7 856.5 L204.1 856.3 L204.5 856.5 L204.9 856.7 L205.3 855.8 L205.7 855.2 L206.2 855.8 L206.6 855.7 L207.0 856.7 L207.4 855.8 L207.8 854.2 L208.2 853.8 L208.6 853.0 L209.0 848.1 L209.4 843.7 L209.8 844.7 L210.3 848.6 L210.7 853.1 L211.1 855.6 L211.5 855.7 L211.9 855.1 L212.3 855.5 L212.7 855.7 L213.1 854.3 L213.5 854.2 L214.0 855.7 L214.4 856.7 L214.8 858.0 L215.2 857.7 L215.6 856.4 L216.0 855.3 L216.4 855.4 L216.8 856.5 L217.2 857.3 L217.6 856.2 L218.1 855.5 L218.5 856.6 L218.9 857.7 L219.3 857.3 L219.7 855.8 L220.1 855.2 L220.5 855.3 L220.9 855.3 L221.3 856.1 L221.8 857.2 L222.2 857.2 L222.6 857.2 L223.0 856.5 L223.4 856.0 L223.8 856.0 L224.2 855.8 L224.6 856.8 L225.0 856.8 L225.4 854.8 L225.9 854.6 L226.3 854.9 L226.7 850.2 L227.1 834.7 L227.5 804.5 L227.9 780.8 L228.3 791.1 L228.7 824.3 L229.1 848.5 L229.6 854.6 L230.0 855.2 L230.4 856.0 L230.8 856.2 L231.2 855.2 L231.6 854.8 L232.0 856.6 L232.4 857.6 L232.8 858.1 L233.2 857.1 L233.7 857.1 L234.1 857.7 L234.5 855.5 L234.9 854.6 L235.3 852.5 L235.7 848.7 L236.1 848.0 L236.5 851.5 L236.9 855.1 L237.4 855.7 L237.8 856.5 L238.2 856.9 L238.6 855.9 L239.0 856.5 L239.4 856.4 L239.8 855.0 L240.2 854.6 L240.6 853.8 L241.0 853.3 L241.5 854.9 L241.9 854.0 L242.3 852.0 L242.7 851.0 L243.1 849.5 L243.5 850.2 L243.9 850.1 L244.3 847.6 L244.7 846.1 L245.2 845.1 L245.6 843.9 L246.0 843.3 L246.4 842.8 L246.8 843.2 L247.2 843.8 L247.6 843.3 L248.0 842.1 L248.4 839.9 L248.8 839.0 L249.3 838.2 L249.7 837.8 L250.1 838.2 L250.5 837.9 L250.9 837.7 L251.3 837.0 L251.7 839.4 L252.1 843.3 L252.5 843.8 L253.0 844.3 L253.4 841.7 L253.8 823.3 L254.2 797.4 L254.6 790.4 L255.0 811.0 L255.4 839.1 L255.8 853.1 L256.2 855.2 L256.6 856.1 L257.1 855.4 L257.5 856.1 L257.9 856.9 L258.3 855.9 L258.7 856.2 L259.1 856.3 L259.5 857.1 L259.9 856.3 L260.3 856.3 L260.8 856.6 L261.2 855.6 L261.6 855.7 L262.0 855.5 L262.4 855.1 L262.8 856.4 L263.2 856.8 L263.6 856.9 L264.0 857.3 L264.4 855.4 L264.9 851.4 L265.3 843.9 L265.7 834.3 L266.1 831.1 L266.5 838.8 L266.9 849.9 L267.3 854.4 L267.7 854.2 L268.1 855.6 L268.6 857.8 L269.0 858.0 L269.4 855.9 L269.8 855.9 L270.2 856.1 L270.6 852.7 L271.0 844.9 L271.4 838.4 L271.8 841.5 L272.2 849.3 L272.7 853.0 L273.1 847.4 L273.5 823.7 L273.9 777.8 L274.3 717.3 L274.7 666.0 L275.1 656.1 L275.5 694.7 L275.9 755.8 L276.4 809.1 L276.8 839.4 L277.2 850.5 L277.6 853.6 L278.0 854.5 L278.4 855.0 L278.8 854.5 L279.2 855.6 L279.6 856.9 L280.0 856.2 L280.5 855.5 L280.9 854.8 L281.3 854.7 L281.7 857.0 L282.1 856.1 L282.5 854.8 L282.9 855.6 L283.3 852.7 L283.7 848.3 L284.2 848.1 L284.6 850.9 L285.0 854.2 L285.4 857.3 L285.8 856.6 L286.2 855.2 L286.6 855.9 L287.0 857.1 L287.4 857.9 L287.9 857.7 L288.3 856.4 L288.7 855.2 L289.1 855.8 L289.5 856.8 L289.9 855.9 L290.3 855.7 L290.7 856.6 L291.1 857.3 L291.5 856.4 L292.0 856.1 L292.4 856.0 L292.8 855.4 L293.2 856.1 L293.6 857.3 L294.0 858.9 L294.4 858.1 L294.8 856.9 L295.2 857.4 L295.7 856.2 L296.1 856.0 L296.5 856.1 L296.9 856.7 L297.3 858.4 L297.7 857.7 L298.1 856.2 L298.5 857.0 L298.9 857.7 L299.3 856.7 L299.8 856.9 L300.2 855.7 L300.6 855.6 L301.0 857.3 L301.4 857.3 L301.8 856.7 L302.2 855.9 L302.6 856.2 L303.0 857.0 L303.5 856.6 L303.9 856.1 L304.3 856.6 L304.7 857.8 L305.1 857.5 L305.5 857.3 L305.9 857.9 L306.3 858.3 L306.7 857.6 L307.1 856.4 L307.6 856.0 L308.0 856.2 L308.4 856.8 L308.8 857.4 L309.2 856.8 L309.6 856.2 L310.0 855.9 L310.4 856.6 L310.8 857.0 L311.3 856.4 L311.7 856.2 L312.1 855.8 L312.5 855.8 L312.9 857.1 L313.3 857.8 L313.7 856.6 L314.1 855.7 L314.5 855.4 L314.9 856.4 L315.4 857.9 L315.8 856.6 L316.2 854.9 L316.6 855.7 L317.0 855.9 L317.4 855.0 L317.8 855.4 L318.2 856.9 L318.6 855.9 L319.1 855.6 L319.5 857.2 L319.9 857.7 L320.3 856.8 L320.7 857.7 L321.1 858.3 L321.5 855.8 L321.9 854.0 L322.3 848.0 L322.7 840.6 L323.2 839.5 L323.6 845.9 L324.0 853.0 L324.4 856.1 L324.8 857.6 L325.2 857.2 L325.6 856.8 L326.0 857.2 L326.4 856.0 L326.9 855.6 L327.3 857.0 L327.7 857.1 L328.1 857.4 L328.5 858.6 L328.9 858.1 L329.3 857.1 L329.7 857.1 L330.1 857.6 L330.5 856.2 L331.0 856.2 L331.4 857.0 L331.8 853.5 L332.2 849.9 L332.6 845.5 L333.0 843.3 L333.4 846.7 L333.8 852.7 L334.2 855.9 L334.7 856.2 L335.1 855.0 L335.5 855.4 L335.9 857.4 L336.3 856.8 L336.7 855.0 L337.1 854.4 L337.5 856.7 L337.9 857.2 L338.3 855.6 L338.8 855.5 L339.2 856.4 L339.6 856.5 L340.0 855.5 L340.4 854.9 L340.8 854.8 L341.2 853.1 L341.6 842.3 L342.0 825.3 L342.5 818.3 L342.9 829.2 L343.3 845.6 L343.7 854.0 L344.1 856.8 L344.5 857.4 L344.9 856.4 L345.3 856.2 L345.7 856.5 L346.1 856.7 L346.6 856.9 L347.0 856.9 L347.4 855.8 L347.8 855.8 L348.2 857.6 L348.6 856.4 L349.0 856.6 L349.4 857.7 L349.8 856.5 L350.3 855.2 L350.7 856.0 L351.1 856.5 L351.5 855.5 L351.9 856.5 L352.3 856.2 L352.7 855.2 L353.1 855.1 L353.5 855.7 L353.9 856.8 L354.4 857.1 L354.8 857.0 L355.2 856.5 L355.6 856.3 L356.0 856.1 L356.4 857.3 L356.8 857.9 L357.2 855.3 L357.6 854.5 L358.1 856.8 L358.5 856.6 L358.9 855.3 L359.3 856.5 L359.7 856.0 L360.1 856.5 L360.5 858.3 L360.9 857.0 L361.3 856.7 L361.7 856.6 L362.2 855.2 L362.6 856.0 L363.0 856.8 L363.4 856.2 L363.8 856.6 L364.2 856.1 L364.6 855.0 L365.0 855.2 L365.4 856.3 L365.9 857.5 L366.3 857.4 L366.7 856.1 L367.1 855.7 L367.5 856.9 L367.9 855.7 L368.3 854.9 L368.7 856.4 L369.1 857.4 L369.5 857.1 L370.0 857.0 L370.4 857.0 L370.8 856.8 L371.2 856.5 L371.6 855.8 L372.0 855.8 L372.4 856.1 L372.8 857.7 L373.2 858.2 L373.7 856.6 L374.1 856.3 L374.5 856.3 L374.9 856.2 L375.3 856.7 L375.7 856.8 L376.1 857.0 L376.5 856.6 L376.9 856.3 L377.3 857.3 L377.8 856.3 L378.2 855.8 L378.6 856.8 L379.0 856.4 L379.4 856.0 L379.8 855.0 L380.2 856.0 L380.6 856.6 L381.0 855.1 L381.5 856.1 L381.9 855.7 L382.3 855.9 L382.7 857.4 L383.1 857.2 L383.5 856.8 L383.9 855.6 L384.3 854.5 L384.7 856.2 L385.1 857.1 L385.6 855.8 L386.0 857.2 L386.4 857.1 L386.8 855.9 L387.2 856.2 L387.6 856.2 L388.0 855.7 L388.4 855.4 L388.8 857.0 L389.3 857.8 L389.7 855.6 L390.1 853.8 L390.5 855.4 L390.9 856.6 L391.3 856.2 L391.7 856.9 L392.1 856.0 L392.5 856.1 L392.9 857.4 L393.4 856.9 L393.8 857.0 L394.2 857.2 L394.6 856.9 L395.0 856.0 L395.4 856.6 L395.8 857.1 L396.2 855.8 L396.6 856.6 L397.1 858.2 L397.5 858.2 L397.9 856.9 L398.3 854.0 L398.7 848.1 L399.1 841.2 L399.5 841.7 L399.9 848.6 L400.3 853.6 L400.7 856.8 L401.2 856.6 L401.6 854.9 L402.0 855.5 L402.4 856.9 L402.8 857.2 L403.2 856.1 L403.6 855.7 L404.0 855.4 L404.4 855.1 L404.9 856.3 L405.3 857.5 L405.7 857.5 L406.1 856.7 L406.5 857.6 L406.9 857.4 L407.3 854.5 L407.7 855.0 L408.1 856.4 L408.5 857.1 L409.0 856.3 L409.4 856.2 L409.8 858.0 L410.2 857.0 L410.6 855.5 L411.0 854.9 L411.4 855.5 L411.8 857.2 L412.2 857.5 L412.7 857.5 L413.1 858.0 L413.5 857.5 L413.9 857.2 L414.3 856.5 L414.7 855.4 L415.1 856.1 L415.5 856.1 L415.9 856.3 L416.3 857.8 L416.8 857.7 L417.2 856.3 L417.6 855.5 L418.0 856.9 L418.4 856.9 L418.8 856.0 L419.2 856.4 L419.6 856.4 L420.0 857.2 L420.5 856.9 L420.9 855.2 L421.3 856.5 L421.7 857.6 L422.1 857.1 L422.5 857.0 L422.9 857.0 L423.3 857.8 L423.7 858.2 L424.1 857.2 L424.6 856.1 L425.0 856.5 L425.4 856.9 L425.8 857.0 L426.2 856.4 L426.6 854.6 L427.0 855.4 L427.4 857.3 L427.8 857.4 L428.3 858.0 L428.7 858.1 L429.1 856.8 L429.5 856.9 L429.9 857.1 L430.3 857.3 L430.7 857.5 L431.1 856.9 L431.5 856.9 L431.9 856.7 L432.4 855.4 L432.8 854.3 L433.2 850.0 L433.6 843.7 L434.0 842.1 L434.4 846.9 L434.8 853.1 L435.2 855.0 L435.6 854.8 L436.1 856.7 L436.5 856.8 L436.9 856.2 L437.3 855.6 L437.7 855.0 L438.1 856.9 L438.5 857.1 L438.9 856.4 L439.3 853.7 L439.8 846.2 L440.2 834.6 L440.6 827.3 L441.0 832.9 L441.4 845.8 L441.8 853.3 L442.2 856.1 L442.6 857.9 L443.0 856.8 L443.4 856.1 L443.9 857.2 L444.3 856.8 L444.7 857.4 L445.1 858.8 L445.5 857.3 L445.9 857.0 L446.3 858.2 L446.7 856.8 L447.1 856.1 L447.6 856.8 L448.0 856.3 L448.4 856.8 L448.8 856.6 L449.2 855.3 L449.6 854.7 L450.0 855.6 L450.4 856.9 L450.8 856.9 L451.2 856.4 L451.7 856.4 L452.1 857.3 L452.5 857.6 L452.9 856.2 L453.3 855.6 L453.7 856.8 L454.1 856.5 L454.5 855.2 L454.9 855.3 L455.4 854.6 L455.8 854.8 L456.2 853.5 L456.6 853.3 L457.0 853.8 L457.4 851.4 L457.8 851.2 L458.2 850.2 L458.6 849.8 L459.0 850.9 L459.5 849.9 L459.9 849.0 L460.3 850.0 L460.7 850.0 L461.1 849.8 L461.5 851.0 L461.9 852.6 L462.3 852.5 L462.7 851.6 L463.2 851.4 L463.6 845.8 L464.0 836.7 L464.4 824.9 L464.8 811.8 L465.2 807.8 L465.6 812.0 L466.0 822.3 L466.4 835.3 L466.8 845.5 L467.3 851.9 L467.7 854.3 L468.1 855.6 L468.5 856.4 L468.9 857.6 L469.3 857.4 L469.7 856.6 L470.1 856.6 L470.5 856.4 L471.0 855.7 L471.4 856.4 L471.8 856.9 L472.2 856.2 L472.6 856.4 L473.0 857.0 L473.4 857.5 L473.8 856.8 L474.2 856.6 L474.6 856.8 L475.1 857.2 L475.5 857.3 L475.9 857.7 L476.3 858.4 L476.7 858.0 L477.1 856.0 L477.5 856.8 L477.9 859.0 L478.3 857.7 L478.8 856.0 L479.2 854.9 L479.6 855.7 L480.0 856.3 L480.4 857.0 L480.8 856.3 L481.2 855.1 L481.6 857.0 L482.0 856.7 L482.4 855.7 L482.9 856.1 L483.3 856.3 L483.7 855.9 L484.1 856.2 L484.5 856.1 L484.9 856.0 L485.3 856.9 L485.7 856.8 L486.1 856.4 L486.6 856.1 L487.0 856.6 L487.4 856.3 L487.8 856.3 L488.2 855.7 L488.6 854.5 L489.0 854.9 L489.4 856.1 L489.8 857.3 L490.2 855.8 L490.7 855.3 L491.1 857.0 L491.5 857.3 L491.9 856.8 L492.3 855.9 L492.7 854.5 L493.1 855.9 L493.5 858.2 L493.9 856.7 L494.4 853.6 L494.8 850.9 L495.2 851.1 L495.6 853.7 L496.0 854.7 L496.4 854.7 L496.8 854.9 L497.2 856.3 L497.6 857.5 L498.0 856.6 L498.5 856.3 L498.9 856.9 L499.3 856.0 L499.7 855.7 L500.1 854.7 L500.5 854.6 L500.9 856.7 L501.3 856.6 L501.7 854.7 L502.2 854.1 L502.6 849.2 L503.0 846.4 L503.4 849.3 L503.8 853.0 L504.2 856.3 L504.6 856.8 L505.0 856.2 L505.4 856.8 L505.8 857.3 L506.3 856.4 L506.7 855.8 L507.1 855.4 L507.5 856.4 L507.9 856.5 L508.3 855.8 L508.7 857.7 L509.1 858.1 L509.5 856.8 L510.0 855.8 L510.4 855.5 L510.8 856.3 L511.2 855.9 L511.6 852.5 L512.0 847.6 L512.4 836.3 L512.8 820.8 L513.2 809.5 L513.6 806.1 L514.1 812.6 L514.5 824.9 L514.9 838.4 L515.3 848.6 L515.7 853.3 L516.1 853.8 L516.5 855.3 L516.9 856.3 L517.3 855.4 L517.8 855.9 L518.2 855.5 L518.6 855.1 L519.0 855.9 L519.4 856.2 L519.8 856.4 L520.2 856.0 L520.6 855.7 L521.0 855.5 L521.4 855.5 L521.9 856.4 L522.3 856.4 L522.7 855.3 L523.1 855.3 L523.5 856.4 L523.9 857.2 L524.3 857.1 L524.7 856.1 L525.1 855.4 L525.6 856.9 L526.0 857.1 L526.4 854.9 L526.8 854.6 L527.2 851.3 L527.6 847.3 L528.0 846.1 L528.4 848.6 L528.8 852.6 L529.2 854.6 L529.7 856.5 L530.1 857.5 L530.5 858.6 L530.9 858.7 L531.3 855.9 L531.7 855.2 L532.1 856.2 L532.5 856.9 L532.9 857.1 L533.4 856.7 L533.8 856.5 L534.2 856.6 L534.6 857.8 L535.0 857.0 L535.4 854.7 L535.8 854.4 L536.2 856.8 L536.6 857.6 L537.0 856.4 L537.5 855.6 L537.9 856.5 L538.3 857.3 L538.7 856.5 L539.1 856.0 L539.5 856.0 L539.9 856.1 L540.3 856.6 L540.7 857.6 L541.2 856.0 L541.6 854.2 L542.0 855.4 L542.4 856.4 L542.8 855.5 L543.2 855.0 L543.6 855.8 L544.0 855.9 L544.4 855.8 L544.8 856.1 L545.3 856.9 L545.7 857.5 L546.1 857.3 L546.5 857.0 L546.9 856.1 L547.3 855.6 L547.7 856.6 L548.1 857.0 L548.5 857.0 L549.0 857.1 L549.4 856.6 L549.8 856.8 L550.2 855.7 L550.6 855.3 L551.0 855.9 L551.4 856.6 L551.8 856.5 L552.2 856.1 L552.6 856.3 L553.1 856.5 L553.5 857.2 L553.9 856.8 L554.3 856.4 L554.7 856.6 L555.1 857.0 L555.5 856.7 L555.9 856.2 L556.3 856.2 L556.8 855.5 L557.2 855.9 L557.6 856.8 L558.0 856.2 L558.4 856.9 L558.8 856.9 L559.2 856.4 L559.6 857.1 L560.0 855.5 L560.4 855.3 L560.9 855.4 L561.3 855.3 L561.7 856.8 L562.1 858.0 L562.5 858.1 L562.9 855.9 L563.3 855.2 L563.7 857.1 L564.1 857.5 L564.6 857.7 L565.0 857.1 L565.4 855.6 L565.8 855.2 L566.2 855.3 L566.6 857.0 L567.0 856.6 L567.4 856.3 L567.8 857.2 L568.2 857.2 L568.7 856.7 L569.1 856.2 L569.5 857.8 L569.9 857.0 L570.3 856.1 L570.7 857.9 L571.1 857.7 L571.5 857.8 L571.9 856.1 L572.4 854.8 L572.8 855.4 L573.2 855.4 L573.6 856.0 L574.0 856.6 L574.4 856.1 L574.8 856.4 L575.2 855.9 L575.6 856.0 L576.0 856.8 L576.5 855.1 L576.9 854.1 L577.3 854.0 L577.7 854.5 L578.1 855.8 L578.5 857.3 L578.9 857.7 L579.3 856.0 L579.7 854.1 L580.2 854.8 L580.6 855.2 L581.0 855.3 L581.4 855.8 L581.8 857.5 L582.2 856.9 L582.6 855.4 L583.0 857.7 L583.4 857.3 L583.8 855.6 L584.3 856.9 L584.7 856.1 L585.1 853.9 L585.5 854.4 L585.9 855.8 L586.3 857.0 L586.7 856.4 L587.1 856.3 L587.5 854.2 L588.0 851.4 L588.4 852.3 L588.8 855.2 L589.2 856.7 L589.6 856.0 L590.0 857.2 L590.4 858.3 L590.8 857.9 L591.2 856.2 L591.7 854.8 L592.1 855.5 L592.5 856.0 L592.9 855.9 L593.3 856.0 L593.7 856.7 L594.1 856.1 L594.5 855.9 L594.9 856.3 L595.3 855.8 L595.8 855.9 L596.2 856.7 L596.6 856.9 L597.0 855.0 L597.4 852.9 L597.8 851.2 L598.2 851.4 L598.6 853.5 L599.0 855.9 L599.5 857.2 L599.9 855.9 L600.3 854.9 L600.7 854.7 L601.1 855.8 L601.5 856.3 L601.9 855.8 L602.3 856.2 L602.7 857.2 L603.1 858.7 L603.6 857.8 L604.0 857.7 L604.4 858.1 L604.8 857.6 L605.2 857.1 L605.6 855.5 L606.0 856.0 L606.4 857.7 L606.8 856.3 L607.3 855.4 L607.7 856.6 L608.1 857.0 L608.5 856.2 L608.9 855.4 L609.3 856.7 L609.7 858.3 L610.1 857.7 L610.5 857.2 L610.9 857.2 L611.4 856.9 L611.8 856.5 L612.2 856.1 L612.6 856.0 L613.0 856.2 L613.4 857.3 L613.8 857.3 L614.2 856.5 L614.6 854.2 L615.1 850.8 L615.5 847.6 L615.9 847.8 L616.3 852.5 L616.7 854.3 L617.1 855.6 L617.5 857.0 L617.9 856.0 L618.3 856.0 L618.7 855.6 L619.2 854.9 L619.6 855.6 L620.0 855.2 L620.4 856.1 L620.8 856.7 L621.2 856.7 L621.6 857.1 L622.0 856.6 L622.4 856.1 L622.9 855.7 L623.3 856.0 L623.7 856.4 L624.1 857.5 L624.5 857.0 L624.9 856.0 L625.3 856.6 L625.7 857.3 L626.1 857.0 L626.5 856.2 L627.0 855.9 L627.4 856.1 L627.8 856.7 L628.2 856.2 L628.6 855.9 L629.0 856.8 L629.4 857.0 L629.8 856.1 L630.2 856.6 L630.7 857.4 L631.1 857.4 L631.5 857.3 L631.9 856.7 L632.3 856.4 L632.7 856.8 L633.1 856.8 L633.5 855.4 L633.9 855.3 L634.3 856.7 L634.8 857.1 L635.2 856.6 L635.6 856.3 L636.0 855.3 L636.4 854.3 L636.8 854.1 L637.2 854.9 L637.6 857.4 L638.0 858.7 L638.5 856.9 L638.9 856.2 L639.3 857.7 L639.7 857.1 L640.1 855.0 L640.5 856.1 L640.9 857.2 L641.3 856.0 L641.7 857.4 L642.1 857.9 L642.6 857.4 L643.0 858.1 L643.4 857.5 L643.8 855.8 L644.2 856.4 L644.6 857.0 L645.0 857.0 L645.4 857.3 L645.8 856.3 L646.3 856.1 L646.7 856.3 L647.1 856.2 L647.5 856.4 L647.9 856.7 L648.3 856.9 L648.7 855.9 L649.1 856.1 L649.5 856.0 L649.9 857.1 L650.4 857.5 L650.8 856.0 L651.2 857.4 L651.6 857.3 L652.0 855.6 L652.4 854.8 L652.8 855.8 L653.2 857.0 L653.6 857.4 L654.1 857.3 L654.5 856.4 L654.9 856.6 L655.3 857.8 L655.7 857.0 L656.1 857.6 L656.5 857.8 L656.9 857.1 L657.3 858.6 L657.7 858.4 L658.2 857.4 L658.6 857.2 L659.0 857.9 L659.4 856.0 L659.8 855.4 L660.2 856.6 L660.6 855.8 L661.0 856.2 L661.4 856.7 L661.9 857.0 L662.3 856.5 L662.7 856.9 L663.1 855.9 L663.5 854.5 L663.9 855.1 L664.3 855.8 L664.7 856.3 L665.1 856.5 L665.5 856.3 L666.0 856.8 L666.4 857.8 L666.8 856.7 L667.2 855.1 L667.6 854.6" stroke-width="1.1"/>
</g>
<g fill="none" stroke="#000" stroke-width="2.5">
<rect x="51.2" y="5.9" width="617.4" height="861.6"/>
<path d="M51.2 293.1 H668.6 M51.2 580.4 H668.6"/>
<path d="M51.2 867.5 v-11 M95.3 867.5 v-5.5 M139.4 867.5 v-11 M183.5 867.5 v-5.5 M227.6 867.5 v-11 M271.7 867.5 v-5.5 M315.8 867.5 v-11 M359.9 867.5 v-5.5 M404 867.5 v-11 M448.1 867.5 v-5.5 M492.2 867.5 v-11 M536.3 867.5 v-5.5 M580.4 867.5 v-11 M624.5 867.5 v-5.5 M668.6 867.5 v-11 " stroke-width="2.2"/>
</g>
<rect x="51.8" y="6.3" width="97.6" height="34.3" fill="#fff" stroke="#555" stroke-width="1.2"/>
<path d="M52.5 23.5 H119.5" stroke="#4a4a4a" stroke-width="1.3"/>
<text x="128" y="32.5" font-family='"Liberation Serif", serif' font-size="30.5" textLength="20" lengthAdjust="spacingAndGlyphs">A</text>
<rect x="51.8" y="293.5" width="97.6" height="34.3" fill="#fff" stroke="#aaa" stroke-width="1.2"/>
<text x="128.7" y="321.1" font-family='"Liberation Serif", serif' font-size="30.5" textLength="18.6" lengthAdjust="spacingAndGlyphs">B</text>
<rect x="51.8" y="580.8" width="97.6" height="34.3" fill="#fff" stroke="#999" stroke-width="1.2"/>
<path d="M52.5 598 H119.5" stroke="#e4e4e4" stroke-width="1.3"/>
<text x="128.2" y="609.3" font-family='"Liberation Serif", serif' font-size="30.5" textLength="19.6" lengthAdjust="spacingAndGlyphs">C</text>
<rect x="87.5" y="215" width="18" height="18" fill="#ff78f0"/>
<path d="M125 219.2 L136 237.8 L114 237.8 Z" fill="#fff" stroke="#0000ff" stroke-width="2.0" stroke-linejoin="miter"/>
<circle cx="178" cy="214.7" r="8.4" fill="#ff8000"/>
<path d="M228 194.7 L239 213.3 L217 213.3 Z" fill="#fff" stroke="#0000ff" stroke-width="2.0" stroke-linejoin="miter"/>
<circle cx="254" cy="143.5" r="8.4" fill="#ff8000"/>
<path d="M275.6 76.7 L286.6 95.3 L264.6 95.3 Z" fill="#fff" stroke="#0000ff" stroke-width="2.0" stroke-linejoin="miter"/>
<path d="M207 233.1 L209.5 239.5 L216.4 239.9 L211.1 244.3 L212.8 251 L207 247.3 L201.2 251 L202.9 244.3 L197.6 239.9 L204.5 239.5 Z" fill="#fff" stroke="#ff1010" stroke-width="1.6" stroke-linejoin="miter"/>
<path d="M248 239.1 L250.5 245.5 L257.4 245.9 L252.1 250.3 L253.8 257 L248 253.3 L242.2 257 L243.9 250.3 L238.6 245.9 L245.5 245.5 Z" fill="#fff" stroke="#ff1010" stroke-width="1.6" stroke-linejoin="miter"/>
<rect x="256.7" y="218" width="18" height="18" fill="#ff78f0"/>
<path d="M291.4 234.7 L293.9 241.1 L300.8 241.5 L295.5 245.9 L297.2 252.6 L291.4 248.9 L285.6 252.6 L287.3 245.9 L282 241.5 L288.9 241.1 Z" fill="#fff" stroke="#ff1010" stroke-width="1.6" stroke-linejoin="miter"/>
<circle cx="324" cy="241" r="8.4" fill="#ff8000"/>
<path d="M346.8 216.7 L357.8 235.3 L335.8 235.3 Z" fill="#fff" stroke="#0000ff" stroke-width="2.0" stroke-linejoin="miter"/>
<circle cx="398.6" cy="237" r="8.4" fill="#ff8000"/>
<path d="M429.4 229.7 L440.4 248.3 L418.4 248.3 Z" fill="#fff" stroke="#0000ff" stroke-width="2.0" stroke-linejoin="miter"/>
<circle cx="439.7" cy="220" r="8.4" fill="#ff8000"/>
<path d="M465.4 210.7 L476.4 229.3 L454.4 229.3 Z" fill="#fff" stroke="#0000ff" stroke-width="2.0" stroke-linejoin="miter"/>
<circle cx="516.4" cy="201" r="8.4" fill="#ff8000"/>
<path d="M531 215.3 L542 233.9 L520 233.9 Z" fill="#fff" stroke="#0000ff" stroke-width="2.0" stroke-linejoin="miter"/>
<path d="M125 520.7 L136 539.3 L114 539.3 Z" fill="#fff" stroke="#0000ff" stroke-width="2.0" stroke-linejoin="miter"/>
<circle cx="176" cy="510" r="8.4" fill="#ff8000"/>
<path d="M230.5 477.5 L241.5 496.1 L219.5 496.1 Z" fill="#fff" stroke="#0000ff" stroke-width="2.0" stroke-linejoin="miter"/>
<circle cx="255" cy="412.5" r="8.4" fill="#ff8000"/>
<path d="M276.8 324.7 L287.8 343.3 L265.8 343.3 Z" fill="#fff" stroke="#0000ff" stroke-width="2.0" stroke-linejoin="miter"/>
<circle cx="324" cy="530" r="8.4" fill="#ff8000"/>
<path d="M342 496.7 L353 515.3 L331 515.3 Z" fill="#fff" stroke="#0000ff" stroke-width="2.0" stroke-linejoin="miter"/>
<circle cx="400" cy="512.5" r="8.4" fill="#ff8000"/>
<path d="M430 524.7 L441 543.3 L419 543.3 Z" fill="#fff" stroke="#0000ff" stroke-width="2.0" stroke-linejoin="miter"/>
<circle cx="443" cy="503.4" r="8.4" fill="#ff8000"/>
<path d="M469 499.2 L480 517.8 L458 517.8 Z" fill="#fff" stroke="#0000ff" stroke-width="2.0" stroke-linejoin="miter"/>
<circle cx="514" cy="490.8" r="8.4" fill="#ff8000"/>
<path d="M529 520.7 L540 539.3 L518 539.3 Z" fill="#fff" stroke="#0000ff" stroke-width="2.0" stroke-linejoin="miter"/>
<path d="M124 805.7 L135 824.3 L113 824.3 Z" fill="#fff" stroke="#0000ff" stroke-width="2.0" stroke-linejoin="miter"/>
<circle cx="174.5" cy="824.5" r="8.4" fill="#ff8000"/>
<path d="M209.6 822.6 L212.1 829 L219 829.4 L213.7 833.8 L215.4 840.5 L209.6 836.8 L203.8 840.5 L205.5 833.8 L200.2 829.4 L207.1 829 Z" fill="#fff" stroke="#ff1010" stroke-width="1.6" stroke-linejoin="miter"/>
<path d="M229.4 757.7 L240.4 776.3 L218.4 776.3 Z" fill="#fff" stroke="#0000ff" stroke-width="2.0" stroke-linejoin="miter"/>
<circle cx="255" cy="775" r="8.4" fill="#ff8000"/>
<path d="M248 816.9 L250.5 823.3 L257.4 823.7 L252.1 828.1 L253.8 834.8 L248 831.1 L242.2 834.8 L243.9 828.1 L238.6 823.7 L245.5 823.3 Z" fill="#fff" stroke="#ff1010" stroke-width="1.6" stroke-linejoin="miter"/>
<rect x="254" y="807" width="18" height="18" fill="#ff78f0"/>
<path d="M276.4 636.2 L287.4 654.8 L265.4 654.8 Z" fill="#fff" stroke="#0000ff" stroke-width="2.0" stroke-linejoin="miter"/>
<path d="M290.8 819.1 L293.3 825.5 L300.2 825.9 L294.9 830.3 L296.6 837 L290.8 833.3 L285 837 L286.7 830.3 L281.4 825.9 L288.3 825.5 Z" fill="#fff" stroke="#ff1010" stroke-width="1.6" stroke-linejoin="miter"/>
<circle cx="323" cy="826.6" r="8.4" fill="#ff8000"/>
<path d="M345 793.7 L356 812.3 L334 812.3 Z" fill="#fff" stroke="#0000ff" stroke-width="2.0" stroke-linejoin="miter"/>
<circle cx="400" cy="826.6" r="8.4" fill="#ff8000"/>
<path d="M429 818.1 L440 836.7 L418 836.7 Z" fill="#fff" stroke="#0000ff" stroke-width="2.0" stroke-linejoin="miter"/>
<circle cx="439.8" cy="813.8" r="8.4" fill="#ff8000"/>
<path d="M458.3 788.7 L469.3 807.3 L447.3 807.3 Z" fill="#fff" stroke="#0000ff" stroke-width="2.0" stroke-linejoin="miter"/>
<circle cx="516.5" cy="795" r="8.4" fill="#ff8000"/>
<path d="M526.8 819.4 L537.8 838 L515.8 838 Z" fill="#fff" stroke="#0000ff" stroke-width="2.0" stroke-linejoin="miter"/>
<circle cx="344.8" cy="32.8" r="7.1" fill="#ff8000"/>
<path d="M499 25.8 L507.8 40.8 L490.2 40.8 Z" fill="#fff" stroke="#0000ff" stroke-width="1.8" stroke-linejoin="miter"/>
<path d="M346.2 65.1 L348.4 70.8 L354.5 71.1 L349.7 74.9 L351.3 80.8 L346.2 77.5 L341.1 80.8 L342.7 74.9 L337.9 71.1 L344 70.8 Z" fill="#fff" stroke="#ff1010" stroke-width="1.5" stroke-linejoin="miter"/>
<rect x="518.5" y="66.5" width="15" height="15" fill="#ff78f0"/>
<text x="362" y="41.5" font-family='"Liberation Serif", serif' font-size="31.5" text-anchor="start" fill="#000" >hematite;</text>
<text x="520" y="41.5" font-family='"Liberation Serif", serif' font-size="31.5" text-anchor="start" fill="#000" >magnetite;</text>
<text x="365.8" y="81.5" font-family='"Liberation Serif", serif' font-size="31.5" text-anchor="start" fill="#000" >perovskite;</text>
<text x="541.5" y="82" font-family='"Liberation Serif", serif' font-size="24.6" text-anchor="start" fill="#000" >SFCA</text>
<text x="51.2" y="904.6" font-family='"Liberation Serif", serif' font-size="31" text-anchor="middle" fill="#000" >10</text>
<text x="139.4" y="904.6" font-family='"Liberation Serif", serif' font-size="31" text-anchor="middle" fill="#000" >20</text>
<text x="227.6" y="904.6" font-family='"Liberation Serif", serif' font-size="31" text-anchor="middle" fill="#000" >30</text>
<text x="315.8" y="904.6" font-family='"Liberation Serif", serif' font-size="31" text-anchor="middle" fill="#000" >40</text>
<text x="404" y="904.6" font-family='"Liberation Serif", serif' font-size="31" text-anchor="middle" fill="#000" >50</text>
<text x="492.2" y="904.6" font-family='"Liberation Serif", serif' font-size="31" text-anchor="middle" fill="#000" >60</text>
<text x="580.4" y="904.6" font-family='"Liberation Serif", serif' font-size="31" text-anchor="middle" fill="#000" >70</text>
<text x="668.6" y="904.6" font-family='"Liberation Serif", serif' font-size="31" text-anchor="middle" fill="#000" >80</text>
<text x="359" y="957.5" font-family='"Liberation Serif", serif' font-size="33.5" text-anchor="middle" fill="#000" >2 theta (deg.)</text>
<text transform="translate(26 436) rotate(-90)" font-family='"Liberation Serif", serif' font-size="33" text-anchor="middle">Intensity (a.u.)</text>
</g>
<clipPath id="tc"><rect x="697" y="58" width="1073" height="912"/></clipPath>
<g clip-path="url(#tc)">
<g id="L-grid">
<path d="M1499.5 692.9 H697 M1416.2 548.6 H697 M1332.9 404.4 H697 M1249.6 260.1 H697 M1166.3 115.8 H697 M1499.5 692.9 L1416.2 837.2 M1249.6 837.2 L249.6 -894.9 M1416.2 548.6 L1249.6 837.2 M1083 837.2 L83 -894.9 M1332.9 404.4 L1083 837.2 M916.4 837.2 L-83.6 -894.9 M1249.6 260.1 L916.4 837.2 M749.8 837.2 L-250.2 -894.9 M1166.3 115.8 L749.8 837.2 M1083 -28.5 L583.2 837.2 M999.7 -172.8 L416.6 837.2 M916.4 -317 L250 837.2 M833.1 -461.3 L83.4 837.2 M749.8 -605.6 L-83.2 837.2 M666.5 -749.9 L-249.8 837.2 " fill="none" stroke="#d0d0d0" stroke-width="2" stroke-dasharray="2 9.5"/>
</g>
<g id="L-edges">
<path d="M1135 60.3 L1582.8 837.2 L697 837.2" fill="none" stroke="#000" stroke-width="2.2" stroke-linejoin="miter"/>
<path d="M1550.5 801.1 L1562 801.1 L1556.2 811.1 M1529.6 765.1 L1541.1 765.1 L1535.4 775 M1508.8 729 L1520.3 729 L1514.6 738.9 M1475.5 692.9 L1499.5 692.9 L1487.5 713.7 M1467.2 656.9 L1478.7 656.9 L1472.9 666.8 M1446.3 620.8 L1457.8 620.8 L1452.1 630.7 M1425.5 584.7 L1437 584.7 L1431.3 594.7 M1392.2 548.6 L1416.2 548.6 L1404.2 569.4 M1383.9 512.6 L1395.4 512.6 L1389.6 522.5 M1363 476.5 L1374.5 476.5 L1368.8 486.5 M1342.2 440.4 L1353.7 440.4 L1348 450.4 M1308.9 404.4 L1332.9 404.4 L1320.9 425.1 M1300.6 368.3 L1312.1 368.3 L1306.3 378.2 M1279.8 332.2 L1291.2 332.2 L1285.5 342.2 M1258.9 296.2 L1270.4 296.2 L1264.7 306.1 M1225.6 260.1 L1249.6 260.1 L1237.6 280.9 M1217.3 224 L1228.8 224 L1223 234 M1196.5 187.9 L1208 187.9 L1202.2 197.9 M1175.6 151.9 L1187.1 151.9 L1181.4 161.8 " fill="none" stroke="#000" stroke-width="1.8" stroke-linejoin="miter"/>
</g>
<g id="L-yellow">
<circle cx="1188" cy="171.5" r="10.8" fill="#ffff00"/>
<circle cx="1226" cy="255" r="10.8" fill="#ffff00"/>
<circle cx="1270.5" cy="294" r="10.8" fill="#ffff00"/>
<circle cx="1269" cy="365" r="10.8" fill="#ffff00"/>
<circle cx="1278" cy="390" r="10.8" fill="#ffff00"/>
<circle cx="1347.4" cy="435.6" r="10.8" fill="#ffff00"/>
<circle cx="1388" cy="499" r="10.8" fill="#ffff00"/>
<circle cx="1188.3" cy="662.1" r="10.8" fill="#ffff00"/>
<circle cx="920" cy="815.8" r="10.8" fill="#ffff00"/>
</g>
<g id="L-baseticks">
<path d="M1535.1 826.8 L1541.1 837.2 L1547.1 826.8 M1493.5 826.8 L1499.5 837.2 L1505.5 826.8 M1451.8 826.8 L1457.8 837.2 L1463.8 826.8 M1404.2 816.4 L1416.2 837.2 L1428.2 816.4 M1368.5 826.8 L1374.5 837.2 L1380.5 826.8 M1326.9 826.8 L1332.9 837.2 L1338.9 826.8 M1285.2 826.8 L1291.2 837.2 L1297.2 826.8 M1237.6 816.4 L1249.6 837.2 L1261.6 816.4 M1202 826.8 L1208 837.2 L1214 826.8 M1160.3 826.8 L1166.3 837.2 L1172.3 826.8 M1118.7 826.8 L1124.7 837.2 L1130.7 826.8 M1071 816.4 L1083 837.2 L1095 816.4 M1035.3 826.8 L1041.3 837.2 L1047.3 826.8 M993.7 826.8 L999.7 837.2 L1005.7 826.8 M952 826.8 L958 837.2 L964 826.8 M904.4 816.4 L916.4 837.2 L928.4 816.4 " fill="none" stroke="#000" stroke-width="1.8" stroke-linejoin="miter"/>
</g>
<g id="L-labels">
<text x="873" y="468.7" font-family='"Liberation Sans", sans-serif' font-size="36.2" font-weight="bold" fill="#800000" textLength="173.4" lengthAdjust="spacingAndGlyphs"><tspan>Slag-liq#2</tspan></text>
<text x="1135.9" y="247.5" font-family='"Liberation Sans", sans-serif' font-size="36.2" font-weight="bold" fill="#800000" textLength="139.8" lengthAdjust="spacingAndGlyphs"><tspan>Ca</tspan><tspan font-size="22.5" dy="5.5">3</tspan><tspan dy="-5.5">Ti</tspan><tspan font-size="22.5" dy="5.5">2</tspan><tspan dy="-5.5">O</tspan><tspan font-size="22.5" dy="5.5">7</tspan></text>
<text x="1199.6" y="359.4" font-family='"Liberation Sans", sans-serif' font-size="36.2" font-weight="bold" fill="#800000" textLength="150.7" lengthAdjust="spacingAndGlyphs"><tspan>Ca</tspan><tspan font-size="22.5" dy="5.5">5</tspan><tspan dy="-5.5">Ti</tspan><tspan font-size="22.5" dy="5.5">4</tspan><tspan dy="-5.5">O</tspan><tspan font-size="22.5" dy="5.5">13</tspan></text>
<text x="1286.5" y="482.5" font-family='"Liberation Sans", sans-serif' font-size="36.2" font-weight="bold" fill="#800000" textLength="157.5" lengthAdjust="spacingAndGlyphs"><tspan>Ca</tspan><tspan font-size="22.5" dy="5.5">2</tspan><tspan dy="-5.5">Fe</tspan><tspan font-size="22.5" dy="5.5">2</tspan><tspan dy="-5.5">O</tspan><tspan font-size="22.5" dy="5.5">5</tspan></text>
<text x="1304.5" y="546.9" font-family='"Liberation Sans", sans-serif' font-size="36.2" font-weight="bold" fill="#800000" textLength="141" lengthAdjust="spacingAndGlyphs"><tspan>CaFe</tspan><tspan font-size="22.5" dy="5.5">2</tspan><tspan dy="-5.5">O</tspan><tspan font-size="22.5" dy="5.5">4</tspan></text>
<text x="1344" y="593" font-family='"Liberation Sans", sans-serif' font-size="36.2" font-weight="bold" fill="#800000" textLength="148.5" lengthAdjust="spacingAndGlyphs"><tspan>CaFe</tspan><tspan font-size="22.5" dy="5.5">4</tspan><tspan dy="-5.5">O</tspan><tspan font-size="22.5" dy="5.5">7</tspan></text>
<text x="1133.5" y="601.8" font-family='"Liberation Sans", sans-serif' font-size="36.2" font-weight="bold" fill="#800000" textLength="184.1" lengthAdjust="spacingAndGlyphs"><tspan>Perovskite</tspan></text>
<text x="1150.5" y="721.5" font-family='"Liberation Sans", sans-serif' font-size="36.2" font-weight="bold" fill="#800000" textLength="182.5" lengthAdjust="spacingAndGlyphs"><tspan>CaTiO</tspan><tspan font-size="22.5" dy="5.5">3</tspan><tspan dy="-5.5">(s2)</tspan></text>
<text x="987.5" y="830" font-family='"Liberation Sans", sans-serif' font-size="36.2" font-weight="bold" fill="#800000" textLength="281.5" lengthAdjust="spacingAndGlyphs"><tspan>M</tspan><tspan font-size="22.5" dy="5.5">2</tspan><tspan dy="-5.5">O</tspan><tspan font-size="22.5" dy="5.5">3</tspan><tspan dy="-5.5">(corundum)</tspan></text>
<text x="1401.7" y="804.8" font-family='"Liberation Sans", sans-serif' font-size="36.2" font-weight="bold" fill="#800000" textLength="109.4" lengthAdjust="spacingAndGlyphs"><tspan>Spinel</tspan></text>
</g>
<g id="L-iso">
<g fill="none" stroke-width="2" stroke-dasharray="18 9">
<path d="M1144 125 C1144.9 126.6 1146.5 129.3 1149.5 134.6 C1152.5 139.9 1155.8 146.1 1162 157 C1168.2 167.9 1178.8 185.2 1187 200 C1195.2 214.8 1203.7 229.8 1211 246 C1218.3 262.2 1224.9 280.8 1231 297 C1237.1 313.2 1241.6 326.8 1247.4 343 C1253.2 359.2 1260.9 377.2 1266 394 C1271.1 410.8 1275.4 429.7 1278 444 C1280.6 458.3 1281 468.2 1281.5 480 C1282 491.8 1282.4 502 1281 515 C1279.6 528 1277.1 544.5 1273 558 C1268.9 571.5 1263.2 586.3 1256.5 596 C1249.8 605.7 1238.6 611.2 1232.5 616 C1226.4 620.8 1229.8 619.4 1220 625 C1210.2 630.6 1191.7 642.5 1173.7 649.7 C1155.7 656.9 1132.6 663.4 1112 668 C1091.4 672.6 1069 675.1 1050 677.6 C1031 680.1 1020 681.9 998 683 C976 684.1 943.4 685.4 918 684.5 C892.6 683.6 865.7 680.6 845.5 677.7 C825.3 674.8 814.9 671.5 797 667 C779.1 662.5 753.6 656.1 738 651 C722.4 645.9 711.4 639.7 703.4 636.2 C695.4 632.7 692.2 631 690 630" stroke="#ff0000"/>
<path d="M1162.5 144.5 C1163.4 145.9 1166.1 150.3 1168 153 C1169.9 155.7 1169.3 150.8 1174 160.4 C1178.7 170 1188.6 194.9 1196.4 210.5 C1204.2 226.1 1213.1 238.8 1220.6 254 C1228.1 269.2 1234.3 284.3 1241.2 301.5 C1248.1 318.7 1255.6 338.3 1261.9 357.2 C1268.2 376.1 1274.8 401.9 1279 415 C1283.2 428.1 1284.9 424.8 1287 436 C1289.1 447.2 1291.1 466.5 1291.5 482 C1291.9 497.5 1291.4 514 1289.5 529 C1287.6 544 1284.2 559.7 1280 572 C1275.8 584.3 1270.7 594 1264 603 C1257.3 612 1246.8 620.5 1240 626 C1233.2 631.5 1231.6 631.3 1223 636 C1214.4 640.7 1199.1 648.6 1188.3 654 C1177.5 659.4 1171 663.3 1158.3 668.3 C1145.6 673.2 1130 679.1 1112 683.7 C1094 688.3 1069 692.8 1050 696 C1031 699.2 1020 701.3 998 703 C976 704.7 947 706.3 918 706 C889 705.7 853.1 704.7 824 701.3 C794.9 697.9 764.7 690.7 743.6 685.8 C722.5 680.9 707.3 674.8 697.5 671.8 C687.7 668.8 687.1 668.6 685 668" stroke="#ff8c00"/>
<path d="M1190 178 C1193.3 184.2 1203.7 202.2 1210 215 C1216.3 227.8 1223 243.3 1228 255 C1233 266.7 1236 274.5 1240 285 C1244 295.5 1247.3 305.2 1252 318 C1256.7 330.8 1263.7 350.8 1268 362 C1272.3 373.2 1274.2 377.9 1278 385 C1281.8 392.1 1286 394.9 1290.7 404.6 C1295.4 414.3 1300.2 427.3 1306 443 C1311.8 458.7 1321.1 482.5 1325.8 499 C1330.5 515.5 1333.2 527.7 1334 542 C1334.8 556.3 1334.1 572.2 1330.8 584.8 C1327.5 597.4 1322.3 607.3 1314.3 617.8 C1306.3 628.2 1293.5 640.1 1283 647.5 C1272.5 654.9 1264 656.8 1251 662 C1238 667.2 1222.7 674 1204.7 679 C1186.7 684 1161.9 688.3 1142.8 692 C1123.7 695.7 1109.6 697.7 1090 701 C1070.4 704.3 1047 708.9 1025 712 C1003 715.1 980.3 717.7 958 719.5 C935.7 721.3 913.3 722.8 891 722.8 C868.7 722.8 846.3 721 824 719.3 C801.7 717.6 778.1 715.5 757 712.6 C735.9 709.7 709.5 704.3 697.5 702 C685.5 699.7 687.1 699.5 685 699" stroke="#ffff00"/>
<path d="M1232 258 C1233.2 260.6 1234 265 1239 273.6 C1244 282.2 1254 295.9 1261.9 309.8 C1269.8 323.7 1278.4 340.4 1286.6 357.2 C1294.8 374 1302.6 392.7 1311.3 410.8 C1320 428.9 1331.6 448.6 1339 466 C1346.4 483.4 1350.8 499 1355.5 515.5 C1360.2 532 1365.1 550.1 1367 565 C1368.9 579.9 1368.3 595.1 1367 604.6 C1365.7 614.1 1363.2 615 1359.4 622 C1355.6 629 1351.7 637.9 1344 646.6 C1336.3 655.4 1323.3 667.3 1313 674.5 C1302.7 681.7 1294.9 684.9 1282 690 C1269.1 695.1 1253.6 700 1235.6 705.4 C1217.5 710.8 1194.3 718 1173.7 722.4 C1153.1 726.8 1132.6 729.6 1112 731.7 C1091.4 733.8 1075.7 734.2 1050 734.8 C1024.3 735.4 995.7 735.1 958 735.5 C920.3 735.9 857.5 737.5 824 737.3 C790.5 737 778.1 736.1 757 734 C735.9 731.9 709.5 726.7 697.5 724.7 C685.5 722.7 687.1 722.5 685 722" stroke="#78e800"/>
<path d="M1322.5 410 C1327.5 419.3 1343.4 448.4 1352.2 466 C1361 483.6 1369.2 500.1 1375.3 515.5 C1381.3 530.9 1385.5 544.6 1388.5 558.4 C1391.5 572.1 1393.2 586.9 1393.5 598 C1393.8 609.1 1391.1 618.5 1390 625 C1388.9 631.5 1389.5 630.3 1387 637 C1384.5 643.7 1382 655.7 1374.8 665 C1367.6 674.3 1354.3 685.2 1344 693 C1333.7 700.8 1325.9 705.4 1313 711.6 C1300.1 717.8 1284.5 724.3 1266.5 730 C1248.5 735.7 1225.3 741.4 1204.7 745.6 C1184.1 749.8 1161.9 752.7 1142.8 755 C1123.7 757.3 1109.6 758.4 1090 759.5 C1070.4 760.6 1047 761.3 1025 761.7 C1003 762.1 982.5 762.6 958 762 C933.5 761.4 904.5 759.7 877.7 758 C850.9 756.3 825.6 754.3 797 752 C768.4 749.7 724.7 745.8 706 744 C687.3 742.2 688.5 741.5 685 741" stroke="#18e028"/>
<path d="M1345 440 C1351.2 451.5 1372.5 489.3 1382 509 C1391.5 528.7 1396.5 543.6 1401.7 558.4 C1406.9 573.2 1410.8 584.8 1413.3 598 C1415.8 611.2 1416.9 625.5 1416.6 637.6 C1416.3 649.7 1414.6 660.7 1411.6 670.6 C1408.6 680.5 1403.8 689.8 1398.4 697 C1393 704.2 1388.1 708.5 1379 714 C1369.9 719.5 1357.6 724.7 1344 730 C1330.4 735.3 1315.6 740.4 1297.5 745.6 C1279.4 750.8 1261.4 755.9 1235.6 761 C1209.8 766.1 1173.7 772.9 1142.8 776.5 C1111.9 780.1 1085.3 781.5 1050 782.7 C1014.7 783.9 964.2 783.7 931 783.6 C897.8 783.5 877.8 783.3 851 782 C824.2 780.7 796 778.3 770.4 775.6 C744.8 772.9 711.7 767.9 697.5 766 C683.3 764.1 687.1 764.3 685 764" stroke="#00e8b0"/>
<path d="M1385 502 C1389.4 511.4 1404.8 542.4 1411.6 558.4 C1418.4 574.4 1422.3 584.6 1426 598 C1429.7 611.4 1431.9 628.8 1433.6 638.6 C1435.3 648.4 1435.8 650.8 1436.4 657 C1437 663.2 1437.8 669.5 1437.3 675.7 C1436.8 681.9 1435.5 688 1433.6 694.2 C1431.7 700.4 1429.7 707.7 1426 712.8 C1422.3 717.9 1416.8 720.7 1411.3 725 C1405.8 729.3 1399 734.9 1392.8 738.7 C1386.6 742.5 1383.5 744 1374.2 748 C1364.9 752 1349.4 758.3 1337 762.5 C1324.6 766.7 1316.9 769.6 1300 773 C1283.1 776.4 1261.8 779.7 1235.6 783 C1209.4 786.3 1173.7 790.2 1142.8 793 C1111.9 795.8 1085.3 798.1 1050 799.7 C1014.7 801.3 964.2 802.2 931 802.4 C897.8 802.6 877.8 801.9 851 801 C824.2 800.1 796 798.7 770.4 797 C744.8 795.3 711.7 792.2 697.5 791 C683.3 789.8 687.1 789.8 685 789.5" stroke="#20b0f8"/>
<path d="M1501 700 C1498.7 701.3 1496.5 703.2 1487.4 708 C1478.3 712.8 1459.9 721.8 1446.2 728.7 C1432.5 735.6 1422.2 740 1405 749.3 C1387.8 758.6 1360.2 774 1343 784.3 C1325.8 794.6 1313.9 803 1301.9 811 C1289.9 819 1276.2 828.5 1271 832" stroke="#20b0f8"/>
<path d="M1535.6 754.4 C1528.8 759.3 1509.2 774.1 1494.8 783.9 C1480.4 793.7 1463.4 804.7 1449.4 813.4 C1435.4 822.1 1417.3 832.2 1410.9 836" stroke="#00e8b0"/>
</g>
<path d="M1173.5 131.5 L1144 124.7 L1149 134" stroke="#ff0000" stroke-width="2" fill="none"/>
<path d="M1172 149.5 L1162.5 144.2 L1166 151" stroke="#ff8c00" stroke-width="2" fill="none"/>
<path d="M1189.5 183 L1206.5 218 L1223 254" stroke="#ffff00" stroke-width="5" fill="none"/>
<path d="M1200 186 L1340 430" stroke="#10e838" stroke-width="2.4" fill="none"/>
<path d="M1262 300 L1345 441" stroke="#00e8d0" stroke-width="1.3" fill="none"/>
<path d="M872.3 815.8 L913.9 834.6 M905 814.6 L975 814.6 M1446.6 664.5 L1474.4 648.8" stroke="#1030ff" stroke-width="1.8" fill="none"/>
</g>
<g id="L-black">
<g fill="none" stroke="#000" stroke-linecap="round" stroke-linejoin="round">
<path d="M690 750 C701.2 750 736.9 750.5 757 750 C777.1 749.5 790.5 748.3 810.6 747 C830.7 745.7 853.1 744.6 877.7 742 C902.3 739.4 933.5 735.4 958 731.4 C982.5 727.4 1003 722.8 1025 718 C1047 713.2 1073.3 707 1090 702.5 C1106.7 698 1113.7 695.3 1125 691 C1136.3 686.7 1147.5 681.4 1158 676.5 C1168.5 671.6 1183 664 1188 661.5" stroke-width="3.7"/>
<path d="M1158 676.5 C1163 674 1177.2 668 1188 661.5 C1198.8 655 1212.5 645.4 1223 637.3 C1233.5 629.1 1243.7 619.3 1251 612.6 C1258.3 605.9 1261.7 603.8 1267 597 C1272.3 590.2 1278.8 583.3 1283 572 C1287.2 560.7 1290.4 544 1292.3 529 C1294.2 514 1294.7 497.5 1294.3 482 C1293.9 466.5 1292.2 449.2 1290 436 C1287.8 422.8 1283.1 410.7 1281 403 C1278.9 395.3 1277.9 392.2 1277.3 390" stroke-width="4.6"/>
<path d="M1188 661.5 C1193.8 659.8 1211 655.6 1223 651 C1235 646.4 1248.2 641.5 1260 634 C1271.8 626.5 1285.8 614.7 1294 606 C1302.2 597.3 1305.8 592.7 1309.5 581.7 C1313.2 570.7 1315.5 551.6 1316.3 540 C1317.1 528.4 1315.5 521.6 1314.3 512 C1313.1 502.4 1311.9 495.7 1309.3 482.5 C1306.7 469.3 1302.5 446.2 1298.5 433 C1294.5 419.8 1288.4 410.2 1285 403 C1281.6 395.8 1279.2 392.2 1278 390" stroke-width="6.2"/>
<path d="M690 797 C701.2 798.5 734.7 803.5 757 806 C779.3 808.5 803.9 810.4 824 811.8 C844.1 813.2 862 813.9 877.7 814.5 C893.4 815.1 900.1 815.3 918 815.3 C935.9 815.3 964.9 815.1 985 814.5 C1005.1 813.9 1021 812.9 1038.5 811.8 C1056 810.7 1077.8 809 1090 807.8 C1102.2 806.6 1098 806.4 1112 804.8 C1126 803.2 1153.1 800.5 1173.7 798 C1194.3 795.5 1225.3 790.9 1235.6 789.5" stroke-width="4.4"/>
<path d="M1173.7 798 C1184 796.6 1214.5 792.7 1235.6 789.5 C1256.6 786.3 1283.1 782.1 1300 778.6 C1316.9 775.1 1324.6 772.6 1337 768.4 C1349.4 764.2 1363.4 758.5 1374.2 753.6 C1385 748.7 1394.3 743.3 1402 738.7 C1409.7 734.1 1415.3 730.4 1420.6 725.8 C1425.9 721.2 1430 716.3 1433.6 711 C1437.2 705.7 1440 700.1 1442 694.2 C1444 688.3 1445 681.9 1445.6 675.7 C1446.2 669.5 1446 663.2 1445.6 657 C1445.1 650.8 1444.1 643.8 1442.9 638.6 C1441.7 633.4 1440.4 631.9 1438.2 625.6 C1436 619.3 1434.4 612.8 1430 601 C1425.6 589.2 1419 571.8 1412 555 C1405 538.2 1392 509.2 1388 500" stroke-width="5.6"/>
<path d="M1251 835.8 C1256.2 832.1 1273.8 819.5 1282 813.7 C1290.2 808 1290.8 807.4 1300 801.3 C1309.2 795.2 1324.6 784.4 1337 777 C1349.4 769.6 1361.8 763.4 1374.2 756.8 C1386.6 750.2 1398.9 743.9 1411.3 737.5 C1423.7 731.1 1437.6 724 1448.4 718.5 C1459.2 713 1467.8 708.5 1476.3 704.6 C1484.8 700.7 1495.6 696.6 1499.4 695" stroke-width="4.5"/>
<path d="M1188 172.5 C1191.3 179.1 1201.3 198.2 1208 212 C1214.7 225.8 1224.7 247.8 1228 255" stroke-width="4.8"/>
<path d="M1228 255 C1230.2 260.3 1236.7 275.8 1241 287 C1245.3 298.2 1249.1 308.9 1253.6 322 C1258.1 335.1 1263.9 354.2 1268 365.5 C1272.1 376.8 1276.3 385.9 1278 390" stroke-width="4"/>
<path d="M1228 255 C1231.3 257.2 1241.2 261.8 1248 268 C1254.8 274.2 1265.5 288 1269 292" stroke-width="4"/>
<path d="M1269 366.5 C1273 368.4 1285 372.8 1292.8 377.8 C1300.5 382.8 1309 390.5 1315.5 396.4 C1322 402.2 1326.7 407.1 1332 412.9 C1337.3 418.7 1344.8 428.3 1347.4 431.4" stroke-width="4.4"/>
<path d="M1188 172.5 L1206 194 L1228.5 227.5 L1268.7 290.3 L1347.4 433 L1388 500" stroke-width="5.6"/>
<path d="M920 815.8 L943.3 836" stroke-width="5"/>
<path d="M751 837.3 H943" stroke-width="3.4" stroke-linecap="butt"/>
<path d="M782.5 822 L750.3 837.3 L782.5 852.5" stroke-width="2.7" stroke-linecap="butt" stroke-linejoin="miter"/>
<path d="M1144.5 109 L1142.3 73 L1172 93" stroke-width="2.7" stroke-linecap="butt" stroke-linejoin="miter"/>
<path d="M1135 60.3 L1160 103.6" stroke-width="2.8" stroke-linecap="butt"/>
</g>
</g>
<g id="L-redarrow">
<path d="M1458.5 656.5 L1400 533" stroke="#ff0000" stroke-width="11" stroke-linecap="round" fill="none"/>
<path d="M1388.3 505.3 L1417.5 526.5 L1388.8 532 Z" fill="#ff0000" stroke="#ff0000" stroke-width="2" stroke-linejoin="round"/>
</g>
<g id="L-nums">
<text x="1178.3" y="190" font-family='"Liberation Sans", sans-serif' font-size="26" font-weight="bold" text-anchor="middle">9</text>
<text x="1213.6" y="274" font-family='"Liberation Sans", sans-serif' font-size="26" font-weight="bold" text-anchor="middle">8</text>
<text x="1293.6" y="297.3" font-family='"Liberation Sans", sans-serif' font-size="26" font-weight="bold" text-anchor="middle">11</text>
<text x="1245.1" y="382.7" font-family='"Liberation Sans", sans-serif' font-size="26" font-weight="bold" text-anchor="middle">6</text>
<text x="1264" y="415.4" font-family='"Liberation Sans", sans-serif' font-size="26" font-weight="bold" text-anchor="middle">2</text>
<text x="1359.2" y="427.8" font-family='"Liberation Sans", sans-serif' font-size="26" font-weight="bold" text-anchor="middle">12</text>
<text x="1412.5" y="507.3" font-family='"Liberation Sans", sans-serif' font-size="26" font-weight="bold" text-anchor="middle">14</text>
<text x="1194.7" y="690.9" font-family='"Liberation Sans", sans-serif' font-size="26" font-weight="bold" text-anchor="middle">1</text>
<text x="921.9" y="807.8" font-family='"Liberation Sans", sans-serif' font-size="26" font-weight="bold" text-anchor="middle">13</text>
<text x="1341.2" y="647.5" font-family='"Liberation Serif", serif' font-size="26.5" text-anchor="middle" fill="#000" >1700</text>
<text x="1401.1" y="667.7" font-family='"Liberation Serif", serif' font-size="26.5" text-anchor="middle" fill="#000" >1500</text>
<text x="1351.5" y="694.6" font-family='"Liberation Serif", serif' font-size="26.5" text-anchor="middle" fill="#000" >1600</text>
<text x="1398.5" y="729.5" font-family='"Liberation Serif", serif' font-size="26.5" text-anchor="middle" fill="#000" >1400</text>
<text x="1477.4" y="686.5" font-family='"Liberation Serif", serif' font-size="26.5" text-anchor="middle" fill="#000" >1300</text>
</g>
</g>
<g id="L-outer">
<text x="923.6" y="887.3" font-family='"Liberation Sans", sans-serif' font-size="20" text-anchor="middle" fill="#1a8a1a" >0.4</text>
<text x="1090.9" y="887.3" font-family='"Liberation Sans", sans-serif' font-size="20" text-anchor="middle" fill="#1a8a1a" >0.3</text>
<text x="1257.5" y="887.3" font-family='"Liberation Sans", sans-serif' font-size="20" text-anchor="middle" fill="#1a8a1a" >0.2</text>
<text x="1422.8" y="887.3" font-family='"Liberation Sans", sans-serif' font-size="20" text-anchor="middle" fill="#1a8a1a" >0.1</text>
<text transform="translate(1292 245.8) rotate(60)" font-family='"Liberation Sans", sans-serif' font-size="20" fill="#1a8a1a" text-anchor="middle" dy="7">0.6</text>
<text transform="translate(1374.2 387) rotate(60)" font-family='"Liberation Sans", sans-serif' font-size="20" fill="#1a8a1a" text-anchor="middle" dy="7">0.7</text>
<text transform="translate(1457.8 532) rotate(60)" font-family='"Liberation Sans", sans-serif' font-size="20" fill="#1a8a1a" text-anchor="middle" dy="7">0.8</text>
<text transform="translate(1540.5 678.6) rotate(60)" font-family='"Liberation Sans", sans-serif' font-size="20" fill="#1a8a1a" text-anchor="middle" dy="7">0.9</text>
<text x="1179" y="132.3" textLength="142" lengthAdjust="spacingAndGlyphs" font-family='"Liberation Sans", sans-serif' font-size="74" font-weight="bold" font-style="italic" fill="#0000be">CaO</text>
<text x="724" y="911.7" font-family='"Liberation Sans", sans-serif' font-size="71" font-weight="bold" font-style="italic" fill="#0000be">TiO<tspan font-size="45" dx="-3">2</tspan></text>
<text x="1602.5" y="927.7" font-family='"Liberation Sans", sans-serif' font-size="70" font-weight="bold" font-style="italic" fill="#0000be">Fe<tspan font-size="37" dy="13.7" dx="-2">2</tspan><tspan dy="-13.7" dx="0">O</tspan><tspan font-size="37" dy="13.7" dx="-12">3</tspan></text>
<text x="936" y="934.6" font-family='"Liberation Sans", sans-serif' font-size="44" font-style="italic" fill="#800080">mass fraction</text>
</g>
</svg></body></html>
